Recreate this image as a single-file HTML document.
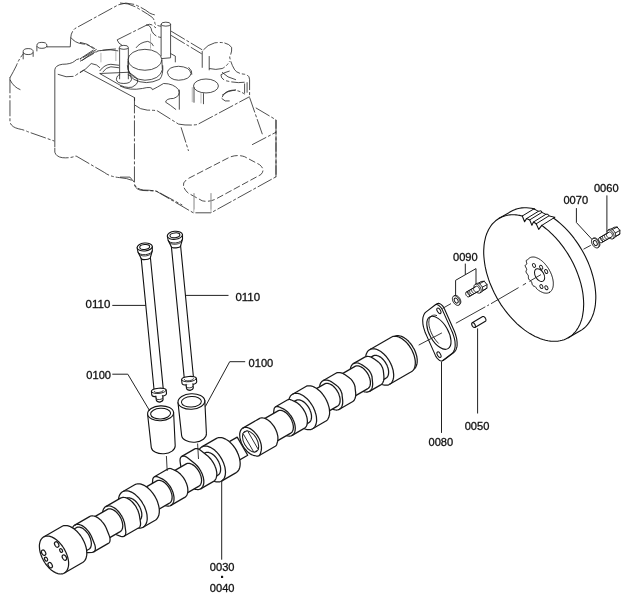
<!DOCTYPE html>
<html><head><meta charset="utf-8"><title>Camshaft parts diagram</title>
<style>
html,body{margin:0;padding:0;background:#fff}
body{width:626px;height:595px;overflow:hidden;font-family:"Liberation Sans",Arial,sans-serif}
svg{display:block;transform:translateZ(0);will-change:transform}
.ph{fill:none;stroke:#222;stroke-width:0.8;stroke-dasharray:16 2 3 2;vector-effect:non-scaling-stroke;stroke-linecap:butt}
.so{fill:none;stroke:#222;stroke-width:0.8;vector-effect:non-scaling-stroke}
.dd{fill:none;stroke:#222;stroke-width:0.8;stroke-dasharray:7 2.5;vector-effect:non-scaling-stroke}
.lt{fill:none;stroke:#999;stroke-width:0.7;vector-effect:non-scaling-stroke}
.ld{fill:none;stroke:#222;stroke-width:1}
.cl2{fill:none;stroke:#222;stroke-width:0.9}
.cl{fill:none;stroke:#333;stroke-width:0.8;stroke-dasharray:26 3 3 3}
text{font-family:"Liberation Sans",Arial,sans-serif;font-size:11.3px;fill:#111;stroke:#111;stroke-width:0.3px}
</style></head><body>
<svg width="626" height="595" viewBox="0 0 626 595">
<rect width="626" height="595" fill="#fff"/>
<g id="head">
<g transform="translate(0,0) scale(0.24919)">
<path class="ph" d="M40,310 L40,490 Q45,510 75,517 Q100,522 110,528 L218,566"/>
<path class="ph" d="M40,312 Q55,285 65,265 Q78,232 95,215"/>
<path class="so" d="M40,320 Q55,350 82,360"/>
<path class="so" d="M93,207 a20,12 0 1,0 40,0 a20,12 0 1,0 -40,0"/>
<path class="so" d="M148,182 a20,12 0 1,0 40,0 a20,12 0 1,0 -40,0"/>
<path class="so" d="M93,210 L93,238 M133,210 L133,228 M148,185 L148,206 M188,185 L188,190"/>
<path class="so" d="M188,188 L282,188"/>
<path class="ph" d="M282,188 L284,150 Q285,130 300,115 L470,22 Q500,5 540,18 Q580,35 600,52 Q615,60 626,60"/>
<path class="ph" d="M284,150 Q300,172 330,176 Q360,180 382,196"/>
<path class="ph" d="M388,198 L322,238"/>
<path class="so" d="M220,590 L220,280 Q222,262 250,258 Q285,258 300,245 Q305,238 318,236"/>
<path class="ph" d="M232,298 Q270,315 300,305 Q320,290 335,282"/>
<path class="so" d="M335,282 L540,392 L540,405"/>
<path class="ph" d="M330,243 Q360,215 390,205 Q440,195 478,205"/>
<path class="lt" d="M405,212 L405,250 M465,202 L465,245"/>
<path class="so" d="M480,192 L480,318 M515,192 L515,318"/>
<path class="so" d="M479,190 a18,8 0 1,0 36,0 a18,8 0 1,0 -36,0"/>
<path class="so" d="M467,318 Q470,300 482,300 M513,300 Q528,302 528,318 Q525,335 497,335 Q468,335 467,318"/>
<path class="so" d="M400,285 Q420,258 445,258 L478,262 M517,290 L545,310 Q560,325 545,340 L530,350 Q500,355 470,335 L400,295 Z"/>
<path class="so" d="M412,290 Q425,270 445,268 L478,272"/>
<path class="ph" d="M470,160 L590,100 Q600,95 610,100 L626,112"/>
<path class="so" d="M470,160 Q475,175 490,182"/>
</g>
<g transform="translate(120,0) scale(0.24919)">
<path class="ph" d="M0,12 Q40,12 75,35 Q110,55 130,70 Q140,82 140,95 Q150,105 165,105"/>
<path class="so" d="M165,97 L165,225 M203,97 L203,232"/>
<path class="so" d="M165,97 a19,8 0 1,0 38,0 a19,8 0 1,0 -38,0"/>
<path class="ph" d="M205,125 L330,200 M205,142 L328,216"/>
<path class="so" d="M330,205 L330,272 M358,225 L358,282"/>
<path class="ph" d="M335,200 Q350,180 380,172 Q430,165 448,190 Q450,210 440,228 Q445,255 460,280 Q470,295 500,298 Q520,300 520,320 L520,385"/>
<path class="ph" d="M358,275 Q385,282 410,275 Q430,265 440,245"/>
<path class="ph" d="M440,285 Q420,290 405,300 Q405,320 430,325 Q470,335 500,330"/>
<path class="ph" d="M500,335 L500,375 M510,330 L510,372"/>
<path class="ph" d="M410,390 Q420,365 450,362 Q480,362 500,378"/>
<path class="so" d="M32,240 a68,42 0 1,0 136,0 a68,42 0 1,0 -136,0"/>
<path class="so" d="M32,245 L33,280 Q45,318 100,322 Q160,320 170,280 L168,240"/>
<path class="so" d="M203,215 L222,225 L222,250 M168,235 L203,232"/>
<path class="so" d="M190,290 Q195,268 235,266 Q280,268 285,295 Q280,320 235,322 Q195,320 190,290"/>
<path class="so" d="M275,270 Q292,285 288,300"/>
<path class="so" d="M295,345 a50,28 0 1,0 100,0 a50,28 0 1,0 -100,0"/>
<path class="so" d="M297,350 L297,412 M335,374 L335,418"/>
<path class="lt" d="M290,350 L290,410 M325,374 L325,415"/>
<path class="so" d="M0,345 Q40,365 90,355 Q130,345 130,360 Q150,350 175,335 Q215,335 235,360 Q245,385 215,395 Q185,395 183,410 Q200,420 225,440"/>
<path class="so" d="M238,360 L238,440"/>
<path class="so" d="M408,395 Q420,410 440,405"/>
<path class="ph" d="M60,422 Q80,440 110,442 Q140,442 150,445 L235,498 Q270,505 310,500 L520,388"/>
</g>
<g transform="translate(0,60) scale(0.24919)">
<path class="so" d="M220,352 L220,370"/>
<path class="ph" d="M220,370 Q225,388 250,392 Q280,395 305,385 L420,452 Q440,468 480,472 Q520,475 538,488"/>
</g>
<g transform="translate(120,60) scale(0.24919)">
<path class="ph" d="M58,150 L58,498 Q65,518 95,522 Q130,522 150,528 L250,582"/>
<path class="ph" d="M0,470 L40,470 L58,492"/>
<path class="ph" d="M245,270 L275,365"/>
<path class="ph" d="M520,150 L572,300"/>
<path class="ph" d="M530,340 L626,290"/>
<path class="ph" d="M545,192 L626,240 L626,470"/>
<path class="dd" d="M255,505 Q250,490 275,475 L440,390 Q470,378 500,388 L560,420 Q585,440 565,460 L390,555 Q360,572 330,565 L275,535 Q258,522 255,505"/>
<path class="lt" d="M298,535 L298,600 M365,535 L365,600"/>
</g>
<g transform="translate(80,0) scale(0.24919)">
<path class="ph" d="M265,100 Q285,100 288,125 Q300,148 325,150"/>
<path class="so" d="M225,192 Q240,170 272,166 Q290,170 295,185"/>
<path class="lt" d="M283,135 L283,195"/>
<path class="ph" d="M0,170 Q30,172 55,196 M0,236 L55,200"/>
<path class="ph" d="M0,246 L70,206 Q100,198 155,196"/>
<path class="so" d="M0,292 Q25,278 45,255 Q70,258 80,272"/>
<path class="so" d="M190,262 Q195,300 215,318 Q265,345 320,318 Q335,300 332,262"/>
<path class="ph" d="M570,290 Q590,312 626,320 M570,382 Q590,365 626,360"/>
</g>
<path class="ph" d="M134.5,185 Q136,190 143,190.5 L156,191 L193.3,212.8 L211,212.8 L276,176.8 L276,120"/>
<path class="lt" d="M193.8,193 L193.8,212.8 M211,193 L211,212.8"/>
</g>
<g id="other">
<path d="M141.0,256.4 L154.2,391.3 L163.4,390.4 L150.2,255.5 Z" fill="#fff" stroke="none" stroke-width="1.1" stroke-linejoin="round" stroke-linecap="round" />
<path d="M141.0,256.4 L154.2,391.3 M150.2,255.5 L163.4,390.4" fill="none" stroke="#111" stroke-width="1.1" stroke-linejoin="round" stroke-linecap="round" />
<path d="M137.1,247.7 L138.0,252.2 L141.2,258.4 A4.6,1.6 -5.6 0 0 150.4,257.5 L152.3,250.8 L152.3,246.3 Z" fill="#fff" stroke="#111" stroke-width="1.1" stroke-linejoin="round" stroke-linecap="round" />
<path d="M138.0,252.2 A7.2,3.4 -5.6 0 0 152.3,250.8" fill="none" stroke="#111" stroke-width="0.9" stroke-linejoin="round" stroke-linecap="round" />
<path d="M138.8,253.6 A6.5,3.0 -5.6 0 0 151.8,252.3" fill="none" stroke="#111" stroke-width="0.8" stroke-linejoin="round" stroke-linecap="round" />
<ellipse cx="144.7" cy="247.0" rx="7.6" ry="4.0" transform="rotate(-5.6 144.7 247.0)" fill="#fff" stroke="#111" stroke-width="1.1"/>
<ellipse cx="144.7" cy="247.0" rx="5.0" ry="2.4" transform="rotate(-5.6 144.7 247.0)" fill="#fff" stroke="#111" stroke-width="1.0"/>
<path d="M151.4,391.5 L151.8,395.0 A7.4,2.6 -5.6 0 0 166.5,393.6 L166.2,390.1 A7.4,2.6 -5.6 0 0 151.4,391.5 Z" fill="#fff" stroke="#111" stroke-width="1.1" stroke-linejoin="round" stroke-linecap="round" />
<path d="M151.4,391.5 A7.4,2.6 -5.6 0 0 166.2,390.1" fill="none" stroke="#111" stroke-width="0.9" stroke-linejoin="round" stroke-linecap="round" />
<path d="M154.2,391.3 A4.6,1.6 -5.6 0 0 163.4,390.4" fill="none" stroke="#111" stroke-width="0.8" stroke-linejoin="round" stroke-linecap="round" />
<path d="M155.9,396.1 L156.3,400.1 Q156.7,401.9 159.9,402.1 Q163.0,401.2 163.1,399.4 L162.7,395.5" fill="#fff" stroke="#111" stroke-width="1.1" stroke-linejoin="round" stroke-linecap="round" />
<path d="M156.1,398.6 A3.4,1.3 -5.6 0 0 162.9,397.9" fill="none" stroke="#111" stroke-width="0.8" stroke-linejoin="round" stroke-linecap="round" />
<path d="M171.2,244.7 L184.4,379.6 L193.6,378.7 L180.4,243.8 Z" fill="#fff" stroke="none" stroke-width="1.1" stroke-linejoin="round" stroke-linecap="round" />
<path d="M171.2,244.7 L184.4,379.6 M180.4,243.8 L193.6,378.7" fill="none" stroke="#111" stroke-width="1.1" stroke-linejoin="round" stroke-linecap="round" />
<path d="M167.3,236.0 L168.2,240.5 L171.4,246.7 A4.6,1.6 -5.6 0 0 180.6,245.8 L182.5,239.1 L182.5,234.6 Z" fill="#fff" stroke="#111" stroke-width="1.1" stroke-linejoin="round" stroke-linecap="round" />
<path d="M168.2,240.5 A7.2,3.4 -5.6 0 0 182.5,239.1" fill="none" stroke="#111" stroke-width="0.9" stroke-linejoin="round" stroke-linecap="round" />
<path d="M169.0,241.9 A6.5,3.0 -5.6 0 0 182.0,240.6" fill="none" stroke="#111" stroke-width="0.8" stroke-linejoin="round" stroke-linecap="round" />
<ellipse cx="174.9" cy="235.3" rx="7.6" ry="4.0" transform="rotate(-5.6 174.9 235.3)" fill="#fff" stroke="#111" stroke-width="1.1"/>
<ellipse cx="174.9" cy="235.3" rx="5.0" ry="2.4" transform="rotate(-5.6 174.9 235.3)" fill="#fff" stroke="#111" stroke-width="1.0"/>
<path d="M181.6,379.8 L182.0,383.3 A7.4,2.6 -5.6 0 0 196.7,381.9 L196.4,378.4 A7.4,2.6 -5.6 0 0 181.6,379.8 Z" fill="#fff" stroke="#111" stroke-width="1.1" stroke-linejoin="round" stroke-linecap="round" />
<path d="M181.6,379.8 A7.4,2.6 -5.6 0 0 196.4,378.4" fill="none" stroke="#111" stroke-width="0.9" stroke-linejoin="round" stroke-linecap="round" />
<path d="M184.4,379.6 A4.6,1.6 -5.6 0 0 193.6,378.7" fill="none" stroke="#111" stroke-width="0.8" stroke-linejoin="round" stroke-linecap="round" />
<path d="M186.1,384.4 L186.5,388.4 Q186.9,390.2 190.1,390.4 Q193.2,389.5 193.3,387.7 L192.9,383.8" fill="#fff" stroke="#111" stroke-width="1.1" stroke-linejoin="round" stroke-linecap="round" />
<path d="M186.3,386.9 A3.4,1.3 -5.6 0 0 193.1,386.2" fill="none" stroke="#111" stroke-width="0.8" stroke-linejoin="round" stroke-linecap="round" />
<path d="M147.6,414.3 L151.3,447.6 A12.0,7.4 -3.0 0 0 175.2,445.8 L173.6,412.3 Z" fill="#fff" stroke="#111" stroke-width="1.1" stroke-linejoin="round" stroke-linecap="round" />
<ellipse cx="160.6" cy="413.3" rx="13.0" ry="7.4" transform="rotate(-3.0 160.6 413.3)" fill="#fff" stroke="#111" stroke-width="1.1"/>
<ellipse cx="160.6" cy="413.6" rx="10.0" ry="5.3" transform="rotate(-3.0 160.6 413.6)" fill="#fff" stroke="#111" stroke-width="1.0"/>
<path d="M178.0,402.6 L181.6,435.4 A12.4,7.8 -3.0 0 0 206.4,433.4 L204.8,400.4 Z" fill="#fff" stroke="#111" stroke-width="1.1" stroke-linejoin="round" stroke-linecap="round" />
<ellipse cx="191.4" cy="401.5" rx="13.4" ry="7.8" transform="rotate(-3.0 191.4 401.5)" fill="#fff" stroke="#111" stroke-width="1.1"/>
<ellipse cx="191.4" cy="401.8" rx="10.0" ry="5.3" transform="rotate(-3.0 191.4 401.8)" fill="#fff" stroke="#111" stroke-width="1.0"/>
<path d="M483.7,250.6 L483.9,247.6 L484.1,244.8 L484.5,242.0 L485.1,239.3 L485.7,236.7 L486.5,234.3 L487.5,231.9 L488.5,229.7 L489.7,227.7 L491.0,225.7 L492.4,223.9 L494.0,222.3 L495.6,220.8 L497.4,219.5 L499.2,218.3 L511.3,211.3 L513.3,210.3 L515.3,209.4 L517.4,208.8 L519.6,208.3 L521.9,207.9 L524.2,207.8 L526.6,207.8 L529.0,208.0 L531.5,208.3 L534.0,208.9 L536.6,209.6 L539.1,210.4 L541.8,211.5 L544.4,212.7 L547.0,214.0 L549.6,215.6 L552.2,217.2 L554.8,219.0 L557.4,221.0 L559.9,223.1 L562.4,225.3 L564.8,227.7 L567.2,230.2 L569.5,232.7 L571.8,235.4 L574.0,238.2 L576.1,241.1 L578.2,244.1 L580.1,247.1 L582.0,250.2 L583.7,253.3 L585.4,256.5 L586.9,259.8 L588.4,263.1 L589.7,266.4 L590.9,269.7 L591.9,273.0 L592.9,276.3 L593.7,279.6 L594.4,282.9 L594.9,286.1 L595.3,289.3 L595.6,292.4 L595.8,295.5 L595.8,298.5 L595.6,301.5 L595.4,304.4 L595.0,307.1 L594.4,309.8 L593.8,312.4 L593.0,314.8 L592.0,317.1 L591.0,319.4 L589.8,321.4 L588.5,323.4 L587.1,325.2 L585.5,326.8 L583.9,328.3 L582.2,329.6 L580.3,330.8 L568.2,337.8 L566.2,338.8 L564.2,339.7 L562.1,340.3 L559.9,340.8 L557.7,341.2 L555.3,341.3 L552.9,341.3 L550.5,341.1 L548.0,340.8 L545.5,340.2 L542.9,339.5 L540.4,338.7 L537.8,337.6 L535.1,336.4 L532.5,335.1 L529.9,333.6 L527.3,331.9 L524.7,330.1 L522.2,328.1 L519.6,326.0 L517.1,323.8 L514.7,321.4 L512.3,318.9 L510.0,316.4 L507.7,313.7 L505.5,310.9 L503.4,308.0 L501.3,305.1 L499.4,302.0 L497.5,298.9 L495.8,295.8 L494.1,292.6 L492.6,289.3 L491.2,286.0 L489.8,282.8 L488.6,279.4 L487.6,276.1 L486.6,272.8 L485.8,269.5 L485.1,266.2 L484.6,263.0 L484.2,259.8 L483.9,256.7 L483.7,253.6 Z" fill="#fff" stroke="#111" stroke-width="1.1" stroke-linejoin="round" stroke-linecap="round" />
<path d="M568.2,337.8 L569.5,337.0 L570.8,336.1 L572.0,335.1 L573.1,334.1 L574.2,333.0 L575.3,331.8 L576.3,330.5 L577.2,329.1 L578.1,327.7 L578.9,326.2 L579.7,324.7 L580.4,323.1 L581.0,321.4 L581.6,319.7 L582.1,317.9 L582.5,316.0 L582.8,314.1 L583.1,312.2 L583.4,310.2 L583.5,308.2 L583.6,306.1 L583.7,304.0 L583.6,301.8 L583.5,299.6 L583.3,297.4 L583.1,295.2 L582.8,292.9 L582.4,290.6 L582.0,288.3 L581.4,286.0 L580.9,283.7 L580.2,281.4 L579.5,279.0 L578.7,276.7 L577.9,274.4 L577.0,272.0 L576.1,269.7 L575.1,267.4 L574.0,265.1 L572.9,262.8 L571.7,260.6 L570.5,258.3 L569.2,256.1 L567.9,253.9 L566.5,251.8 L565.1,249.7 L563.7,247.6 L562.2,245.6 L560.6,243.6 L559.1,241.7 L557.5,239.8 L555.8,237.9 L554.1,236.2 L552.4,234.4 L550.7,232.8 L549.0,231.2 L547.2,229.6 L545.4,228.2 L543.6,226.8 L541.8,225.4" fill="none" stroke="#111" stroke-width="1.1" stroke-linejoin="round" stroke-linecap="round" />
<path d="M522.3,216.0 L521.0,215.7 L519.7,215.4 L518.5,215.2 L517.2,215.0 L516.0,214.9 L514.7,214.8 L513.5,214.8 L512.3,214.8 L511.1,214.8 L509.9,214.9 L508.8,215.0 L507.6,215.2 L506.5,215.5 L505.4,215.7 L504.3,216.1 L503.2,216.4 L502.2,216.8 L501.2,217.3 L500.2,217.8 L499.2,218.3" fill="none" stroke="#111" stroke-width="1.1" stroke-linejoin="round" stroke-linecap="round" />
<path d="M535.1,207.8 L540.8,209.8 L547.5,213.0 L553.2,216.7 L552.7,220.1 L547.4,216.7 L541.1,213.7 L535.7,211.9 Z" fill="#fff" stroke="none" stroke-width="1.1" stroke-linejoin="round" stroke-linecap="round" />
<path d="M522.3,216.0 L524.6,221.7 L526.5,218.6 L529.7,219.9 L531.9,225.2 L533.5,222.0 L536.2,223.8 L538.7,229.4 L541.8,225.4" fill="none" stroke="#111" stroke-width="1.1" stroke-linejoin="round" stroke-linecap="round" />
<path d="M522.3,216.0 L533.9,208.9" fill="none" stroke="#111" stroke-width="1.0" stroke-linejoin="round" stroke-linecap="round" />
<path d="M526.5,218.6 L538.4,211.3" fill="none" stroke="#111" stroke-width="1.0" stroke-linejoin="round" stroke-linecap="round" />
<path d="M529.7,219.9 L541.9,212.4" fill="none" stroke="#111" stroke-width="1.0" stroke-linejoin="round" stroke-linecap="round" />
<path d="M533.5,222.0 L545.9,214.3" fill="none" stroke="#111" stroke-width="1.0" stroke-linejoin="round" stroke-linecap="round" />
<path d="M536.2,223.8 L548.9,215.9" fill="none" stroke="#111" stroke-width="1.0" stroke-linejoin="round" stroke-linecap="round" />
<path d="M541.8,225.4 L554.8,217.3" fill="none" stroke="#111" stroke-width="1.0" stroke-linejoin="round" stroke-linecap="round" />
<path d="M533.9,208.9 L538.4,211.3 L541.1,210.8 L541.9,212.4 L545.9,214.3 L548.1,214.3 L548.9,215.9 L554.8,217.3" fill="none" stroke="#111" stroke-width="1.0" stroke-linejoin="round" stroke-linecap="round" />
<path d="M549.6,292.3 L549.9,292.1 L550.2,291.9 L550.5,291.7 L550.8,291.4 L551.0,291.1 L551.3,290.8 L551.5,290.5 L551.8,290.2 L552.0,289.8 L552.2,289.4 L552.4,289.0 L552.5,288.6 L552.7,288.2 L552.8,287.7 L553.0,287.3 L553.1,286.8 L553.1,286.3 L553.2,285.8 L553.3,285.3 L553.3,284.8 L553.3,284.2 L553.3,283.7 L553.3,283.1 L553.3,282.6 L553.3,282.0 L553.2,281.4 L553.1,280.8 L553.0,280.2 L552.9,279.6 L552.8,279.0 L552.6,278.4 L552.5,277.7 L552.3,277.1 L552.1,276.5 L551.9,275.9 L551.7,275.2 L551.5,274.6 L551.2,274.0 L550.9,273.3 L550.7,272.7 L550.4,272.1 L550.1,271.5 L549.7,270.8 L549.4,270.2 L549.1,269.6 L548.7,269.0 L548.4,268.4 L548.0,267.9 L547.6,267.3 L547.2,266.7 L546.8,266.2 L546.4,265.6 L546.0,265.1 L545.5,264.6 L545.1,264.1 L544.7,263.6 L544.2,263.1 L543.8,262.6 L543.3,262.2 L542.8,261.7 L542.4,261.3 L541.9,260.9 L541.4,260.5 L540.9,260.2 L540.5,259.8 L540.0,259.5 L539.5,259.2 L539.0,258.9 L538.5,258.6 L538.1,258.4 L537.6,258.2 L537.1,257.9 L536.7,257.8 L536.2,257.6 L535.7,257.4 L535.3,257.3 L534.8,257.2 L534.4,257.1 L533.9,257.1 L533.5,257.0 L533.1,257.0 L532.6,257.0 L532.2,257.1 L531.8,257.1 L531.4,257.2 L531.1,257.3 L530.7,257.4 L530.3,257.5 L530.0,257.7 L529.6,257.9 L529.3,258.1 L529.0,258.3 L528.7,258.5 L528.4,258.8 L528.2,259.1 L527.9,259.4 L527.7,259.7 L527.4,260.0 L526.9,260.0 L526.5,260.2 L526.3,260.6 L526.3,261.2 L526.4,261.9 L526.6,262.7 L526.8,263.4 L526.7,263.9 L526.5,264.3 L526.2,264.5 L525.7,264.8 L525.4,265.1 L525.2,265.5 L525.3,266.2 L525.6,266.9 L526.0,267.7 L526.4,268.4 L526.6,269.1 L526.7,269.6 L526.5,270.1 L526.3,270.6 L526.1,271.1 L526.0,271.7 L526.2,272.3 L526.5,273.0 L527.0,273.7 L527.5,274.4 L528.0,275.0 L528.3,275.6 L528.4,276.2 L528.4,276.8 L528.4,277.5 L528.4,278.2 L528.7,278.9 L529.1,279.5 L529.6,280.1 L530.2,280.5 L530.8,281.0 L531.2,281.5 L531.6,282.0 L531.8,282.7 L532.0,283.5 L532.2,284.3 L532.5,285.0 L533.0,285.6 L533.5,286.0 L534.1,286.2 L534.6,286.4 L535.2,286.6 L535.6,287.0 L536.0,287.6 L536.4,288.3 L536.8,288.9 L537.3,289.3 L537.8,289.7 L538.3,290.0 L538.7,290.4 L539.2,290.7 L539.7,291.0 L540.2,291.3 L540.7,291.6 L541.1,291.8 L541.6,292.0 L542.1,292.3 L542.5,292.4 L543.0,292.6 L543.5,292.8 L543.9,292.9 L544.4,293.0 L544.8,293.1 L545.3,293.1 L545.7,293.2 L546.1,293.2 L546.6,293.2 L547.0,293.1 L547.4,293.1 L547.8,293.0 L548.1,292.9 L548.5,292.8 L548.9,292.7 L549.2,292.5 L549.6,292.3 Z" fill="none" stroke="#111" stroke-width="1.0" stroke-linejoin="round" stroke-linecap="round" />
<ellipse cx="539.6" cy="275.1" rx="7.0" ry="4.3" transform="rotate(60 539.6 275.1)" fill="none" stroke="#111" stroke-width="1.0"/>
<ellipse cx="534.0" cy="265.4" rx="2.1" ry="1.4" transform="rotate(60 534.0 265.4)" fill="none" stroke="#111" stroke-width="0.9"/>
<ellipse cx="541.2" cy="267.3" rx="2.1" ry="1.4" transform="rotate(60 541.2 267.3)" fill="none" stroke="#111" stroke-width="0.9"/>
<ellipse cx="546.2" cy="271.5" rx="2.1" ry="1.4" transform="rotate(60 546.2 271.5)" fill="none" stroke="#111" stroke-width="0.9"/>
<ellipse cx="541.4" cy="286.6" rx="2.1" ry="1.4" transform="rotate(60 541.4 286.6)" fill="none" stroke="#111" stroke-width="0.9"/>
<ellipse cx="546.4" cy="287.7" rx="2.1" ry="1.4" transform="rotate(60 546.4 287.7)" fill="none" stroke="#111" stroke-width="0.9"/>
<path d="M591.5,241.1 L591.5,240.5 L591.6,240.0 L591.8,239.6 L592.1,239.2 L592.4,238.8 L592.7,238.6 L593.5,238.2 L593.9,238.0 L594.3,237.9 L594.8,237.9 L595.2,237.9 L595.7,238.1 L596.2,238.3 L596.7,238.6 L597.2,239.0 L597.7,239.4 L598.1,239.9 L598.5,240.5 L598.9,241.0 L599.2,241.6 L599.5,242.3 L599.6,242.9 L599.8,243.5 L599.9,244.1 L599.9,244.7 L599.8,245.2 L599.7,245.7 L599.5,246.2 L599.3,246.6 L599.0,246.9 L598.7,247.2 L597.9,247.6 L597.5,247.8 L597.1,247.9 L596.6,247.9 L596.2,247.8 L595.7,247.7 L595.2,247.4 L594.7,247.1 L594.2,246.8 L593.7,246.3 L593.3,245.8 L592.9,245.3 L592.5,244.7 L592.2,244.1 L591.9,243.5 L591.7,242.9 L591.6,242.2 L591.5,241.6 Z" fill="#fff" stroke="#111" stroke-width="1.0" stroke-linejoin="round" />
<path d="M597.9,247.6 L598.2,247.4 L598.5,247.0 L598.8,246.6 L598.9,246.2 L599.1,245.7 L599.1,245.1 L599.1,244.6 L599.0,244.0 L598.9,243.3 L598.7,242.7 L598.4,242.1 L598.1,241.5 L597.7,240.9 L597.3,240.4 L596.9,239.9 L596.4,239.5 L595.9,239.1 L595.4,238.8 L594.9,238.5 L594.4,238.4 L594.0,238.3 L593.5,238.3 L593.1,238.4 L592.7,238.6" fill="none" stroke="#111" stroke-width="1.0" stroke-linejoin="round" />
<ellipse cx="595.3" cy="243.1" rx="2.7" ry="1.7" transform="rotate(60 595.3 243.1)" fill="none" stroke="#111" stroke-width="0.9"/>
<path d="M609.1,233.9 L609.2,230.2 L614.2,227.3 L617.1,227.0 L619.9,230.4 L619.8,234.1 L614.8,236.9 L611.9,237.3 Z" fill="#fff" stroke="#111" stroke-width="1.0" stroke-linejoin="round" />
<path d="M614.8,237.0 L614.9,233.2 L612.1,229.8 L609.2,230.1" fill="none" stroke="#111" stroke-width="1.0" stroke-linejoin="round" />
<path d="M614.8,237.0 L619.8,234.1" fill="none" stroke="#111" stroke-width="0.9" stroke-linejoin="round" stroke-linecap="round" />
<path d="M614.9,233.2 L619.9,230.4" fill="none" stroke="#111" stroke-width="0.9" stroke-linejoin="round" stroke-linecap="round" />
<path d="M612.1,229.8 L617.1,227.0" fill="none" stroke="#111" stroke-width="0.9" stroke-linejoin="round" stroke-linecap="round" />
<path d="M606.9,232.5 L606.9,232.0 L607.0,231.5 L607.2,231.1 L607.4,230.7 L607.7,230.4 L608.0,230.2 L609.6,229.3 L609.9,229.1 L610.3,229.1 L610.8,229.1 L611.2,229.1 L611.7,229.3 L612.1,229.5 L612.6,229.8 L613.1,230.1 L613.5,230.5 L613.9,231.0 L614.3,231.5 L614.6,232.0 L615.0,232.6 L615.2,233.2 L615.4,233.8 L615.5,234.4 L615.6,234.9 L615.6,235.5 L615.6,236.0 L615.5,236.5 L615.3,236.9 L615.1,237.3 L614.8,237.6 L614.5,237.8 L612.9,238.7 L612.5,238.9 L612.1,238.9 L611.7,238.9 L611.3,238.9 L610.8,238.7 L610.3,238.5 L609.9,238.2 L609.4,237.9 L609.0,237.5 L608.5,237.0 L608.2,236.5 L607.8,236.0 L607.5,235.4 L607.3,234.8 L607.1,234.2 L607.0,233.6 L606.9,233.1 Z" fill="#fff" stroke="#111" stroke-width="1.0" stroke-linejoin="round" />
<path d="M612.9,238.7 L613.2,238.5 L613.5,238.2 L613.7,237.8 L613.9,237.4 L614.0,236.9 L614.1,236.4 L614.0,235.8 L614.0,235.3 L613.8,234.7 L613.6,234.1 L613.4,233.5 L613.1,232.9 L612.7,232.4 L612.4,231.9 L612.0,231.4 L611.5,231.0 L611.1,230.7 L610.6,230.4 L610.1,230.2 L609.7,230.0 L609.2,229.9 L608.8,230.0 L608.4,230.0 L608.0,230.2" fill="none" stroke="#111" stroke-width="1.0" stroke-linejoin="round" />
<path d="M598.5,239.1 L598.5,238.8 L598.6,238.6 L598.7,238.4 L598.8,238.2 L599.0,238.0 L599.1,237.9 L609.1,232.1 L609.3,232.0 L609.5,232.0 L609.8,232.0 L610.0,232.0 L610.3,232.1 L610.5,232.2 L610.8,232.4 L611.0,232.6 L611.3,232.8 L611.5,233.0 L611.7,233.3 L611.9,233.6 L612.1,233.9 L612.2,234.2 L612.3,234.6 L612.4,234.9 L612.4,235.2 L612.4,235.5 L612.4,235.8 L612.4,236.1 L612.3,236.3 L612.1,236.5 L612.0,236.7 L611.8,236.8 L601.9,242.5 L601.6,242.6 L601.4,242.7 L601.2,242.7 L600.9,242.6 L600.7,242.6 L600.4,242.4 L600.2,242.3 L599.9,242.1 L599.7,241.9 L599.5,241.6 L599.2,241.3 L599.0,241.0 L598.9,240.7 L598.8,240.4 L598.6,240.1 L598.6,239.8 L598.5,239.4 Z" fill="#fff" stroke="#111" stroke-width="1.0" stroke-linejoin="round" />
<path d="M601.9,242.5 L602.0,242.4 L602.2,242.2 L602.3,242.0 L602.4,241.8 L602.5,241.5 L602.5,241.3 L602.5,241.0 L602.4,240.6 L602.4,240.3 L602.2,240.0 L602.1,239.7 L601.9,239.4 L601.8,239.1 L601.6,238.8 L601.3,238.5 L601.1,238.3 L600.8,238.1 L600.6,238.0 L600.3,237.8 L600.1,237.8 L599.8,237.7 L599.6,237.7 L599.4,237.8 L599.1,237.9" fill="none" stroke="#111" stroke-width="1.0" stroke-linejoin="round" />
<path d="M602.0,236.6 L601.7,236.6 L601.4,236.6 L601.1,236.7 L600.9,236.9 L600.7,237.1 L600.6,237.4 L600.5,237.8 L600.5,238.2 L600.6,238.6 L600.7,239.0 L600.8,239.5 L601.0,239.9 L601.3,240.3 L601.6,240.6 L601.9,240.9 L602.2,241.2 L602.6,241.4 L602.9,241.5 L603.3,241.5 L603.6,241.5 L603.8,241.4 L604.1,241.2 L604.3,241.0 L604.4,240.7" fill="none" stroke="#111" stroke-width="0.9" stroke-linejoin="round" />
<path d="M604.0,235.5 L603.7,235.4 L603.4,235.5 L603.1,235.6 L602.9,235.7 L602.7,236.0 L602.6,236.3 L602.5,236.6 L602.5,237.0 L602.6,237.5 L602.7,237.9 L602.8,238.3 L603.0,238.7 L603.3,239.1 L603.6,239.5 L603.9,239.8 L604.2,240.0 L604.6,240.2 L604.9,240.3 L605.3,240.4 L605.6,240.3 L605.8,240.2 L606.1,240.1 L606.2,239.8 L606.4,239.5" fill="none" stroke="#111" stroke-width="0.9" stroke-linejoin="round" />
<path d="M606.0,234.3 L605.7,234.3 L605.4,234.3 L605.1,234.4 L604.9,234.6 L604.7,234.8 L604.6,235.1 L604.5,235.5 L604.5,235.9 L604.5,236.3 L604.7,236.7 L604.8,237.2 L605.0,237.6 L605.3,238.0 L605.6,238.3 L605.9,238.6 L606.2,238.9 L606.6,239.1 L606.9,239.2 L607.2,239.2 L607.6,239.2 L607.8,239.1 L608.1,238.9 L608.2,238.7 L608.4,238.4" fill="none" stroke="#111" stroke-width="0.9" stroke-linejoin="round" />
<path d="M608.0,233.2 L607.7,233.1 L607.4,233.2 L607.1,233.3 L606.9,233.4 L606.7,233.7 L606.6,234.0 L606.5,234.3 L606.5,234.7 L606.5,235.2 L606.6,235.6 L606.8,236.0 L607.0,236.4 L607.3,236.8 L607.6,237.2 L607.9,237.5 L608.2,237.7 L608.6,237.9 L608.9,238.0 L609.2,238.1 L609.5,238.0 L609.8,237.9 L610.0,237.8 L610.2,237.5 L610.4,237.2" fill="none" stroke="#111" stroke-width="0.9" stroke-linejoin="round" />
<path d="M471.7,323.9 L471.7,323.6 L471.7,323.4 L471.8,323.1 L471.9,323.0 L472.0,322.8 L472.2,322.7 L482.7,316.6 L482.9,316.5 L483.1,316.5 L483.3,316.5 L483.6,316.5 L483.8,316.6 L484.0,316.8 L484.3,316.9 L484.5,317.1 L484.8,317.4 L485.0,317.6 L485.2,317.9 L485.4,318.2 L485.5,318.5 L485.7,318.8 L485.8,319.1 L485.9,319.5 L485.9,319.8 L485.9,320.1 L485.9,320.3 L485.9,320.6 L485.8,320.8 L485.7,321.0 L485.6,321.1 L485.4,321.3 L474.9,327.4 L474.7,327.4 L474.5,327.5 L474.3,327.5 L474.1,327.4 L473.8,327.3 L473.6,327.2 L473.3,327.0 L473.1,326.8 L472.9,326.6 L472.6,326.4 L472.4,326.1 L472.2,325.8 L472.1,325.5 L471.9,325.1 L471.8,324.8 L471.7,324.5 L471.7,324.2 Z" fill="#fff" stroke="#111" stroke-width="1.1" stroke-linejoin="round" />
<path d="M474.9,327.4 L475.0,327.3 L475.2,327.1 L475.3,326.9 L475.3,326.7 L475.4,326.4 L475.4,326.2 L475.4,325.9 L475.3,325.6 L475.2,325.2 L475.1,324.9 L475.0,324.6 L474.8,324.3 L474.6,324.0 L474.4,323.7 L474.2,323.4 L474.0,323.2 L473.7,323.0 L473.5,322.9 L473.2,322.7 L473.0,322.6 L472.8,322.6 L472.5,322.6 L472.3,322.6 L472.2,322.7" fill="none" stroke="#111" stroke-width="1.1" stroke-linejoin="round" />
<path d="M452.4,298.6 L452.4,298.0 L452.6,297.5 L452.7,297.1 L453.0,296.7 L453.3,296.4 L453.6,296.1 L454.4,295.6 L454.8,295.5 L455.2,295.4 L455.6,295.4 L456.1,295.4 L456.6,295.6 L457.1,295.8 L457.6,296.1 L458.1,296.5 L458.6,296.9 L459.0,297.4 L459.4,298.0 L459.8,298.5 L460.1,299.1 L460.4,299.8 L460.6,300.4 L460.7,301.0 L460.8,301.6 L460.8,302.2 L460.7,302.7 L460.6,303.2 L460.4,303.7 L460.2,304.1 L459.9,304.4 L459.6,304.6 L458.8,305.1 L458.4,305.3 L458.0,305.4 L457.5,305.4 L457.1,305.3 L456.6,305.1 L456.1,304.9 L455.6,304.6 L455.1,304.2 L454.6,303.8 L454.2,303.3 L453.8,302.8 L453.4,302.2 L453.1,301.6 L452.8,301.0 L452.6,300.4 L452.5,299.7 L452.4,299.1 Z" fill="#fff" stroke="#111" stroke-width="1.0" stroke-linejoin="round" />
<path d="M458.8,305.1 L459.1,304.9 L459.4,304.5 L459.7,304.1 L459.8,303.7 L460.0,303.2 L460.0,302.6 L460.0,302.1 L459.9,301.5 L459.8,300.8 L459.6,300.2 L459.3,299.6 L459.0,299.0 L458.6,298.4 L458.2,297.9 L457.8,297.4 L457.3,297.0 L456.8,296.6 L456.3,296.3 L455.8,296.0 L455.3,295.9 L454.9,295.8 L454.4,295.8 L454.0,295.9 L453.6,296.1" fill="none" stroke="#111" stroke-width="1.0" stroke-linejoin="round" />
<ellipse cx="456.2" cy="300.6" rx="2.7" ry="1.7" transform="rotate(60 456.2 300.6)" fill="none" stroke="#111" stroke-width="0.9"/>
<path d="M476.2,288.1 L476.3,284.4 L481.3,281.5 L484.2,281.2 L487.0,284.6 L486.9,288.3 L481.9,291.1 L479.0,291.5 Z" fill="#fff" stroke="#111" stroke-width="1.0" stroke-linejoin="round" />
<path d="M481.9,291.2 L482.0,287.4 L479.2,284.0 L476.3,284.3" fill="none" stroke="#111" stroke-width="1.0" stroke-linejoin="round" />
<path d="M481.9,291.2 L486.9,288.3" fill="none" stroke="#111" stroke-width="0.9" stroke-linejoin="round" stroke-linecap="round" />
<path d="M482.0,287.4 L487.0,284.6" fill="none" stroke="#111" stroke-width="0.9" stroke-linejoin="round" stroke-linecap="round" />
<path d="M479.2,284.0 L484.2,281.2" fill="none" stroke="#111" stroke-width="0.9" stroke-linejoin="round" stroke-linecap="round" />
<path d="M474.0,286.7 L474.0,286.2 L474.1,285.7 L474.3,285.3 L474.5,284.9 L474.8,284.6 L475.1,284.4 L476.7,283.5 L477.0,283.3 L477.4,283.3 L477.9,283.2 L478.3,283.3 L478.8,283.5 L479.2,283.7 L479.7,284.0 L480.2,284.3 L480.6,284.7 L481.0,285.2 L481.4,285.7 L481.8,286.2 L482.1,286.8 L482.3,287.4 L482.5,288.0 L482.6,288.6 L482.7,289.1 L482.7,289.7 L482.7,290.2 L482.6,290.7 L482.4,291.1 L482.2,291.5 L481.9,291.8 L481.6,292.0 L480.0,292.9 L479.6,293.1 L479.2,293.1 L478.8,293.1 L478.4,293.1 L477.9,292.9 L477.4,292.7 L477.0,292.4 L476.5,292.1 L476.1,291.7 L475.6,291.2 L475.3,290.7 L474.9,290.2 L474.6,289.6 L474.4,289.0 L474.2,288.4 L474.1,287.8 L474.0,287.3 Z" fill="#fff" stroke="#111" stroke-width="1.0" stroke-linejoin="round" />
<path d="M480.0,292.9 L480.3,292.7 L480.6,292.4 L480.8,292.0 L481.0,291.6 L481.1,291.1 L481.2,290.6 L481.1,290.0 L481.1,289.5 L480.9,288.9 L480.7,288.3 L480.5,287.7 L480.2,287.1 L479.8,286.6 L479.5,286.1 L479.1,285.6 L478.6,285.2 L478.2,284.9 L477.7,284.6 L477.2,284.4 L476.8,284.2 L476.3,284.1 L475.9,284.2 L475.5,284.2 L475.1,284.4" fill="none" stroke="#111" stroke-width="1.0" stroke-linejoin="round" />
<path d="M465.6,293.3 L465.6,293.1 L465.7,292.8 L465.8,292.6 L465.9,292.4 L466.1,292.2 L466.2,292.1 L476.2,286.3 L476.4,286.2 L476.6,286.2 L476.9,286.2 L477.1,286.2 L477.4,286.3 L477.6,286.4 L477.9,286.6 L478.1,286.8 L478.4,287.0 L478.6,287.2 L478.8,287.5 L479.0,287.8 L479.2,288.1 L479.3,288.4 L479.4,288.8 L479.5,289.1 L479.5,289.4 L479.5,289.7 L479.5,290.0 L479.4,290.3 L479.4,290.5 L479.2,290.7 L479.1,290.9 L478.9,291.0 L468.9,296.7 L468.8,296.8 L468.5,296.9 L468.3,296.9 L468.0,296.8 L467.8,296.8 L467.5,296.6 L467.3,296.5 L467.0,296.3 L466.8,296.1 L466.6,295.8 L466.3,295.5 L466.1,295.2 L466.0,294.9 L465.9,294.6 L465.7,294.3 L465.7,294.0 L465.6,293.6 Z" fill="#fff" stroke="#111" stroke-width="1.0" stroke-linejoin="round" />
<path d="M469.0,296.7 L469.1,296.6 L469.3,296.4 L469.4,296.2 L469.5,296.0 L469.6,295.7 L469.6,295.5 L469.6,295.2 L469.5,294.8 L469.5,294.5 L469.3,294.2 L469.2,293.9 L469.0,293.6 L468.9,293.3 L468.7,293.0 L468.4,292.7 L468.2,292.5 L467.9,292.3 L467.7,292.2 L467.4,292.0 L467.2,292.0 L466.9,291.9 L466.7,291.9 L466.5,292.0 L466.2,292.1" fill="none" stroke="#111" stroke-width="1.0" stroke-linejoin="round" />
<path d="M469.1,290.8 L468.8,290.8 L468.5,290.8 L468.2,290.9 L468.0,291.1 L467.8,291.3 L467.7,291.6 L467.6,292.0 L467.6,292.4 L467.7,292.8 L467.8,293.2 L467.9,293.7 L468.1,294.1 L468.4,294.5 L468.7,294.8 L469.0,295.1 L469.3,295.4 L469.7,295.6 L470.0,295.7 L470.4,295.7 L470.7,295.7 L470.9,295.6 L471.2,295.4 L471.4,295.2 L471.5,294.9" fill="none" stroke="#111" stroke-width="0.9" stroke-linejoin="round" />
<path d="M471.1,289.7 L470.8,289.6 L470.5,289.7 L470.2,289.8 L470.0,289.9 L469.8,290.2 L469.7,290.5 L469.6,290.8 L469.6,291.2 L469.7,291.7 L469.8,292.1 L469.9,292.5 L470.1,292.9 L470.4,293.3 L470.7,293.7 L471.0,294.0 L471.3,294.2 L471.7,294.4 L472.0,294.5 L472.4,294.6 L472.7,294.5 L472.9,294.4 L473.2,294.3 L473.3,294.0 L473.5,293.7" fill="none" stroke="#111" stroke-width="0.9" stroke-linejoin="round" />
<path d="M473.1,288.5 L472.8,288.5 L472.5,288.5 L472.2,288.6 L472.0,288.8 L471.8,289.0 L471.7,289.3 L471.6,289.7 L471.6,290.1 L471.6,290.5 L471.8,290.9 L471.9,291.4 L472.1,291.8 L472.4,292.2 L472.7,292.5 L473.0,292.8 L473.3,293.1 L473.7,293.3 L474.0,293.4 L474.3,293.4 L474.7,293.4 L474.9,293.3 L475.2,293.1 L475.3,292.9 L475.5,292.6" fill="none" stroke="#111" stroke-width="0.9" stroke-linejoin="round" />
<path d="M475.1,287.4 L474.8,287.3 L474.5,287.4 L474.2,287.5 L474.0,287.6 L473.8,287.9 L473.7,288.2 L473.6,288.5 L473.6,288.9 L473.6,289.4 L473.7,289.8 L473.9,290.2 L474.1,290.6 L474.4,291.0 L474.7,291.4 L475.0,291.7 L475.3,291.9 L475.7,292.1 L476.0,292.2 L476.3,292.3 L476.6,292.2 L476.9,292.1 L477.1,292.0 L477.3,291.7 L477.5,291.4" fill="none" stroke="#111" stroke-width="0.9" stroke-linejoin="round" />
<path d="M422.7,320.4 L422.8,318.9 L423.0,317.4 L423.4,316.1 L423.8,314.9 L424.4,313.8 L425.0,312.9 L425.8,312.1 L435.4,304.7 L437.4,303.6 L438.0,303.4 L438.6,303.4 L439.4,303.5 L440.2,303.9 L441.0,304.4 L441.8,305.1 L442.6,305.9 L443.3,306.9 L443.9,307.9 L444.5,309.0 L453.5,329.2 L454.4,331.2 L455.1,333.1 L455.7,335.0 L456.2,336.9 L456.7,338.8 L456.9,340.6 L457.1,342.3 L457.1,343.9 L457.1,345.5 L456.9,346.9 L456.5,348.2 L456.1,349.4 L455.5,350.5 L454.9,351.4 L454.1,352.2 L444.5,359.6 L442.5,360.8 L441.9,361.0 L441.2,361.0 L440.5,360.8 L439.7,360.5 L438.9,359.9 L438.1,359.2 L437.3,358.4 L436.6,357.5 L435.9,356.4 L435.4,355.4 L426.4,335.1 L425.5,333.2 L424.8,331.2 L424.2,329.3 L423.6,327.4 L423.2,325.6 L422.9,323.8 L422.8,322.1 Z" fill="#fff" stroke="#111" stroke-width="1.1" stroke-linejoin="round" />
<path d="M442.5,360.8 L452.1,353.4 L452.9,352.6 L453.5,351.7 L454.1,350.6 L454.5,349.4 L454.9,348.1 L455.1,346.6 L455.2,345.1 L455.1,343.4 L455.0,341.7 L454.7,339.9 L454.3,338.1 L453.7,336.2 L453.1,334.3 L452.4,332.3 L451.5,330.4 L442.5,310.1 L441.9,309.0 L441.3,308.0 L440.6,307.1 L439.8,306.3 L439.0,305.6 L438.2,305.0 L437.4,304.7 L436.7,304.5 L436.0,304.5 L435.4,304.7" fill="none" stroke="#111" stroke-width="1.1" stroke-linejoin="round" />
<ellipse cx="438.9" cy="332.8" rx="18.3" ry="9.2" transform="rotate(60 438.9 332.8)" fill="#fff" stroke="#111" stroke-width="1.1"/>
<path d="M437.0,315.6 L435.8,315.3 L434.6,315.1 L433.5,315.2 L432.5,315.4 L431.6,315.9 L430.8,316.5 L430.2,317.3 L429.6,318.3 L429.2,319.4 L429.0,320.7 L428.8,322.1 L428.9,323.6 L429.0,325.2 L429.3,326.9 L429.8,328.7 L430.4,330.5 L431.1,332.3 L431.9,334.1 L432.8,335.8 L433.8,337.5 L435.0,339.2 L436.1,340.7 L437.4,342.2 L438.7,343.5" fill="none" stroke="#111" stroke-width="0.9" stroke-linejoin="round" />
<ellipse cx="438.9" cy="310.8" rx="3.1" ry="1.6" transform="rotate(60 438.9 310.8)" fill="none" stroke="#111" stroke-width="1.0"/>
<ellipse cx="439.0" cy="354.7" rx="3.1" ry="1.6" transform="rotate(60 439.0 354.7)" fill="none" stroke="#111" stroke-width="1.0"/>
</g>
<g id="cam">
<path d="M387.9,346.7 L388.0,345.4 L388.1,344.1 L388.4,343.0 L388.7,341.9 L389.1,340.9 L389.7,340.0 L390.3,339.2 L391.0,338.6 L391.8,338.1 L394.4,336.6 L395.2,336.1 L396.1,335.9 L397.1,335.7 L398.2,335.7 L399.2,335.8 L400.3,336.0 L401.5,336.4 L402.6,336.9 L403.8,337.5 L404.9,338.3 L406.1,339.1 L407.2,340.1 L408.4,341.1 L409.4,342.3 L410.5,343.5 L411.5,344.8 L412.4,346.2 L413.2,347.6 L414.1,349.0 L414.8,350.5 L415.4,352.0 L415.9,353.5 L416.4,355.1 L416.8,356.5 L417.0,358.0 L417.2,359.4 L417.2,360.8 L417.2,362.1 L417.0,363.4 L416.8,364.5 L416.4,365.6 L416.0,366.6 L415.5,367.5 L414.9,368.3 L414.2,368.9 L413.4,369.4 L410.8,370.9 L409.9,371.4 L409.0,371.6 L408.0,371.8 L407.0,371.8 L405.9,371.7 L404.8,371.5 L403.7,371.1 L402.5,370.6 L401.4,370.0 L400.2,369.2 L399.0,368.4 L397.9,367.4 L396.8,366.4 L395.7,365.2 L394.7,364.0 L393.7,362.7 L392.8,361.3 L391.9,359.9 L391.1,358.5 L390.4,357.0 L389.8,355.5 L389.2,354.0 L388.8,352.4 L388.4,351.0 L388.1,349.5 L388.0,348.1 Z" fill="#fff" stroke="#1a1a1a" stroke-width="1.25" stroke-linejoin="round" />
<path d="M410.8,371.0 L411.6,370.4 L412.3,369.8 L412.9,369.0 L413.4,368.1 L413.8,367.1 L414.2,366.0 L414.4,364.9 L414.6,363.6 L414.6,362.3 L414.6,360.9 L414.4,359.5 L414.1,358.0 L413.8,356.5 L413.3,355.0 L412.8,353.5 L412.2,352.0 L411.4,350.5 L410.7,349.1 L409.8,347.7 L408.9,346.3 L407.9,345.0 L406.8,343.8 L405.8,342.6 L404.6,341.6 L403.5,340.6 L402.4,339.8 L401.2,339.0 L400.0,338.4 L398.9,337.9 L397.7,337.5 L396.6,337.3 L395.6,337.2 L394.5,337.2 L393.5,337.4 L392.6,337.6 L391.8,338.0" fill="none" stroke="#1a1a1a" stroke-width="1.25" stroke-linejoin="round" />
<path d="M365.6,358.8 L365.6,357.4 L365.8,356.1 L366.0,354.9 L366.4,353.7 L366.9,352.7 L367.4,351.7 L368.1,350.9 L368.8,350.2 L369.6,349.7 L391.3,337.2 L392.2,336.8 L393.1,336.4 L394.2,336.3 L395.3,336.3 L396.4,336.4 L397.6,336.6 L398.8,337.0 L400.0,337.6 L401.2,338.2 L402.4,339.0 L403.6,339.9 L404.8,340.9 L406.0,342.0 L407.1,343.2 L408.2,344.5 L409.3,345.9 L410.2,347.3 L411.1,348.8 L412.0,350.3 L412.7,351.9 L413.4,353.5 L414.0,355.1 L414.4,356.6 L414.8,358.2 L415.1,359.8 L415.3,361.3 L415.3,362.7 L415.3,364.1 L415.1,365.4 L414.9,366.6 L414.5,367.8 L414.1,368.8 L413.5,369.8 L412.8,370.6 L412.1,371.3 L411.3,371.8 L389.6,384.3 L388.7,384.8 L387.8,385.1 L386.7,385.2 L385.6,385.2 L384.5,385.1 L383.4,384.9 L382.1,384.5 L380.9,383.9 L379.7,383.3 L378.5,382.5 L377.3,381.6 L376.1,380.6 L374.9,379.5 L373.8,378.3 L372.7,377.0 L371.6,375.6 L370.7,374.2 L369.8,372.7 L368.9,371.2 L368.2,369.6 L367.5,368.0 L366.9,366.4 L366.4,364.9 L366.1,363.3 L365.8,361.7 L365.6,360.2 Z" fill="#fff" stroke="#1a1a1a" stroke-width="1.25" stroke-linejoin="round" />
<path d="M389.6,384.3 L390.4,383.8 L391.2,383.1 L391.8,382.3 L392.4,381.3 L392.9,380.3 L393.2,379.1 L393.5,377.9 L393.6,376.6 L393.7,375.2 L393.6,373.8 L393.4,372.3 L393.2,370.7 L392.8,369.2 L392.3,367.6 L391.8,366.0 L391.1,364.4 L390.3,362.8 L389.5,361.3 L388.6,359.8 L387.6,358.4 L386.6,357.0 L385.5,355.7 L384.3,354.5 L383.2,353.4 L382.0,352.4 L380.8,351.5 L379.5,350.7 L378.3,350.1 L377.1,349.5 L375.9,349.1 L374.7,348.9 L373.6,348.8 L372.5,348.8 L371.5,349.0 L370.5,349.2 L369.6,349.7" fill="none" stroke="#1a1a1a" stroke-width="1.25" stroke-linejoin="round" />
<path d="M363.7,365.7 L363.7,364.9 L363.8,364.0 L364.0,363.2 L364.2,362.5 L364.5,361.8 L364.9,361.2 L365.3,360.7 L365.8,360.3 L366.3,359.9 L373.2,355.9 L373.8,355.6 L374.4,355.4 L375.1,355.4 L375.8,355.3 L376.5,355.4 L377.2,355.6 L378.0,355.8 L378.8,356.2 L379.6,356.6 L380.4,357.1 L381.1,357.6 L381.9,358.3 L382.6,359.0 L383.4,359.8 L384.1,360.6 L384.7,361.5 L385.4,362.4 L385.9,363.4 L386.5,364.3 L387.0,365.3 L387.4,366.4 L387.8,367.4 L388.1,368.4 L388.3,369.4 L388.5,370.4 L388.6,371.3 L388.6,372.3 L388.6,373.1 L388.5,374.0 L388.3,374.8 L388.1,375.5 L387.8,376.2 L387.4,376.8 L387.0,377.3 L386.6,377.7 L386.0,378.1 L379.1,382.1 L378.5,382.4 L377.9,382.6 L377.2,382.6 L376.6,382.7 L375.8,382.6 L375.1,382.4 L374.3,382.2 L373.5,381.8 L372.8,381.4 L372.0,380.9 L371.2,380.4 L370.4,379.7 L369.7,379.0 L368.9,378.2 L368.2,377.4 L367.6,376.5 L367.0,375.6 L366.4,374.6 L365.9,373.7 L365.4,372.7 L364.9,371.6 L364.6,370.6 L364.3,369.6 L364.0,368.6 L363.9,367.6 L363.7,366.7 Z" fill="#fff" stroke="#1a1a1a" stroke-width="1.25" stroke-linejoin="round" />
<path d="M379.1,382.1 L379.6,381.7 L380.1,381.3 L380.5,380.8 L380.9,380.2 L381.2,379.5 L381.4,378.8 L381.6,378.0 L381.7,377.1 L381.7,376.3 L381.7,375.3 L381.5,374.4 L381.4,373.4 L381.1,372.4 L380.8,371.4 L380.5,370.3 L380.0,369.3 L379.5,368.3 L379.0,367.4 L378.4,366.4 L377.8,365.5 L377.1,364.6 L376.4,363.8 L375.7,363.0 L375.0,362.3 L374.2,361.7 L373.4,361.1 L372.6,360.6 L371.9,360.2 L371.1,359.8 L370.3,359.6 L369.6,359.4 L368.8,359.3 L368.2,359.3 L367.5,359.4 L366.9,359.6 L366.3,359.9" fill="none" stroke="#1a1a1a" stroke-width="1.25" stroke-linejoin="round" />
<path d="M350.2,370.9 L350.2,369.8 L350.4,368.8 L350.6,367.8 L350.9,366.9 L351.2,366.0 L351.7,365.3 L352.2,364.6 L352.8,364.1 L353.4,363.6 L364.7,357.1 L365.4,356.8 L366.2,356.6 L367.0,356.4 L367.9,356.4 L368.8,356.5 L369.7,356.7 L370.7,357.0 L371.6,357.4 L372.6,358.0 L373.6,358.6 L377.7,361.6 L378.3,361.9 L378.8,362.4 L379.3,362.9 L379.8,363.4 L380.3,364.0 L380.8,364.6 L381.2,365.2 L381.6,365.9 L381.9,366.6 L382.3,367.2 L382.6,367.9 L382.8,368.6 L383.0,369.3 L383.2,370.0 L383.3,370.7 L383.4,371.4 L383.9,376.4 L383.9,377.6 L383.9,378.7 L383.8,379.7 L383.6,380.7 L383.3,381.6 L382.9,382.5 L382.5,383.2 L381.9,383.9 L381.4,384.4 L380.7,384.9 L369.4,391.4 L368.7,391.7 L367.9,391.9 L367.1,392.1 L366.3,392.1 L365.4,392.0 L364.4,391.8 L363.5,391.5 L362.5,391.1 L361.5,390.5 L360.5,389.9 L359.6,389.2 L358.6,388.4 L357.7,387.5 L356.8,386.5 L355.9,385.5 L355.1,384.4 L354.3,383.2 L353.5,382.1 L352.9,380.8 L352.3,379.6 L351.7,378.3 L351.3,377.1 L350.9,375.8 L350.6,374.5 L350.4,373.3 L350.2,372.1 Z" fill="#fff" stroke="#1a1a1a" stroke-width="1.25" stroke-linejoin="round" />
<path d="M369.4,391.4 L370.1,390.9 L370.7,390.4 L371.2,389.7 L371.7,389.0 L372.0,388.1 L372.3,387.2 L372.5,386.2 L372.6,385.2 L372.7,384.1 L372.6,382.9 L372.1,377.9 L372.1,377.2 L371.9,376.5 L371.8,375.8 L371.6,375.1 L371.3,374.4 L371.0,373.7 L370.7,373.0 L370.3,372.4 L369.9,371.7 L369.5,371.1 L369.0,370.5 L368.6,369.9 L368.1,369.4 L367.5,368.9 L367.0,368.4 L366.5,368.1 L362.4,365.1 L361.4,364.5 L360.4,364.0 L359.4,363.5 L358.5,363.2 L357.5,363.0 L356.6,362.9 L355.8,362.9 L354.9,363.1 L354.2,363.3 L353.4,363.6" fill="none" stroke="#1a1a1a" stroke-width="1.25" stroke-linejoin="round" />
<path d="M335.1,382.2 L335.1,381.4 L335.2,380.5 L335.4,379.7 L335.6,379.0 L335.9,378.3 L336.3,377.7 L336.7,377.2 L337.2,376.8 L337.7,376.4 L355.0,366.4 L355.6,366.1 L356.2,365.9 L356.9,365.9 L357.6,365.8 L358.3,365.9 L359.1,366.1 L359.8,366.3 L360.6,366.7 L361.4,367.1 L362.2,367.6 L362.9,368.1 L363.7,368.8 L364.5,369.5 L365.2,370.3 L365.9,371.1 L366.6,372.0 L367.2,372.9 L367.8,373.9 L368.3,374.8 L368.8,375.8 L369.2,376.9 L369.6,377.9 L369.9,378.9 L370.1,379.9 L370.3,380.9 L370.4,381.8 L370.4,382.8 L370.4,383.6 L370.3,384.5 L370.1,385.3 L369.9,386.0 L369.6,386.7 L369.3,387.3 L368.8,387.8 L368.4,388.2 L367.8,388.6 L350.5,398.6 L349.9,398.9 L349.3,399.1 L348.7,399.1 L348.0,399.2 L347.2,399.1 L346.5,398.9 L345.7,398.7 L345.0,398.3 L344.2,397.9 L343.4,397.4 L342.6,396.9 L341.9,396.2 L341.1,395.5 L340.4,394.7 L339.7,393.9 L339.0,393.0 L338.4,392.1 L337.8,391.1 L337.3,390.2 L336.8,389.2 L336.4,388.1 L336.0,387.1 L335.7,386.1 L335.4,385.1 L335.3,384.1 L335.2,383.2 Z" fill="#fff" stroke="#1a1a1a" stroke-width="1.25" stroke-linejoin="round" />
<path d="M350.5,398.6 L351.0,398.2 L351.5,397.8 L351.9,397.3 L352.3,396.7 L352.6,396.0 L352.8,395.3 L353.0,394.5 L353.1,393.6 L353.1,392.8 L353.1,391.8 L353.0,390.9 L352.8,389.9 L352.5,388.9 L352.2,387.9 L351.9,386.8 L351.5,385.8 L351.0,384.8 L350.4,383.9 L349.9,382.9 L349.2,382.0 L348.6,381.1 L347.9,380.3 L347.1,379.5 L346.4,378.8 L345.6,378.2 L344.8,377.6 L344.1,377.1 L343.3,376.7 L342.5,376.3 L341.7,376.1 L341.0,375.9 L340.3,375.8 L339.6,375.8 L338.9,375.9 L338.3,376.1 L337.7,376.4" fill="none" stroke="#1a1a1a" stroke-width="1.25" stroke-linejoin="round" />
<path d="M319.5,388.2 L319.6,387.1 L319.7,386.0 L319.9,385.0 L320.2,384.0 L320.6,383.2 L321.1,382.4 L321.6,381.8 L322.2,381.2 L322.9,380.7 L335.9,373.2 L336.6,372.9 L337.4,372.6 L338.3,372.5 L339.1,372.5 L340.1,372.6 L341.1,372.8 L342.0,373.1 L343.0,373.5 L344.0,374.1 L345.1,374.7 L349.3,377.8 L349.8,378.2 L350.4,378.6 L350.9,379.1 L351.4,379.7 L351.9,380.3 L352.4,380.9 L352.8,381.6 L353.2,382.2 L353.6,382.9 L354.0,383.6 L354.3,384.4 L354.5,385.1 L354.8,385.8 L354.9,386.5 L355.1,387.2 L355.1,387.9 L355.7,393.1 L355.7,394.3 L355.7,395.4 L355.6,396.5 L355.3,397.5 L355.0,398.5 L354.6,399.3 L354.2,400.1 L353.7,400.8 L353.1,401.3 L352.4,401.8 L339.4,409.3 L338.6,409.6 L337.8,409.9 L337.0,410.0 L336.1,410.0 L335.2,409.9 L334.2,409.7 L333.2,409.4 L332.2,409.0 L331.2,408.4 L330.2,407.8 L329.2,407.1 L328.2,406.2 L327.2,405.3 L326.3,404.3 L325.4,403.2 L324.5,402.1 L323.7,400.9 L323.0,399.7 L322.3,398.4 L321.7,397.1 L321.1,395.8 L320.7,394.5 L320.3,393.2 L319.9,391.9 L319.7,390.7 L319.6,389.4 Z" fill="#fff" stroke="#1a1a1a" stroke-width="1.25" stroke-linejoin="round" />
<path d="M339.4,409.3 L340.1,408.8 L340.7,408.3 L341.2,407.6 L341.7,406.8 L342.0,406.0 L342.3,405.0 L342.6,404.0 L342.7,402.9 L342.7,401.8 L342.7,400.6 L342.1,395.4 L342.1,394.7 L341.9,394.0 L341.8,393.3 L341.5,392.6 L341.3,391.9 L341.0,391.1 L340.6,390.4 L340.3,389.7 L339.9,389.1 L339.4,388.4 L338.9,387.8 L338.4,387.2 L337.9,386.6 L337.4,386.1 L336.8,385.7 L336.3,385.3 L332.1,382.2 L331.1,381.6 L330.0,381.0 L329.0,380.6 L328.1,380.3 L327.1,380.1 L326.2,380.0 L325.3,380.0 L324.4,380.1 L323.6,380.4 L322.9,380.7" fill="none" stroke="#1a1a1a" stroke-width="1.25" stroke-linejoin="round" />
<path d="M306.6,398.7 L306.6,397.9 L306.7,397.0 L306.8,396.2 L307.1,395.5 L307.4,394.8 L307.7,394.2 L308.1,393.7 L308.6,393.3 L309.1,392.9 L324.7,383.9 L325.3,383.6 L325.9,383.4 L326.6,383.4 L327.3,383.3 L328.0,383.4 L328.7,383.6 L329.5,383.8 L330.3,384.2 L331.1,384.6 L331.9,385.1 L332.6,385.6 L333.4,386.3 L334.1,387.0 L334.9,387.8 L335.6,388.6 L336.2,389.5 L336.9,390.4 L337.4,391.4 L338.0,392.3 L338.5,393.3 L338.9,394.4 L339.2,395.4 L339.6,396.4 L339.8,397.4 L340.0,398.4 L340.1,399.3 L340.1,400.3 L340.1,401.1 L340.0,402.0 L339.8,402.8 L339.6,403.5 L339.3,404.2 L338.9,404.8 L338.5,405.3 L338.1,405.7 L337.5,406.1 L321.9,415.1 L321.4,415.4 L320.8,415.6 L320.1,415.6 L319.4,415.7 L318.7,415.6 L317.9,415.4 L317.2,415.2 L316.4,414.8 L315.6,414.4 L314.8,413.9 L314.0,413.4 L313.3,412.7 L312.5,412.0 L311.8,411.2 L311.1,410.4 L310.4,409.5 L309.8,408.6 L309.2,407.6 L308.7,406.7 L308.2,405.7 L307.8,404.6 L307.4,403.6 L307.1,402.6 L306.9,401.6 L306.7,400.6 L306.6,399.7 Z" fill="#fff" stroke="#1a1a1a" stroke-width="1.25" stroke-linejoin="round" />
<path d="M321.9,415.1 L322.5,414.7 L322.9,414.3 L323.4,413.8 L323.7,413.2 L324.0,412.5 L324.2,411.8 L324.4,411.0 L324.5,410.1 L324.5,409.3 L324.5,408.3 L324.4,407.4 L324.2,406.4 L324.0,405.4 L323.7,404.4 L323.3,403.3 L322.9,402.3 L322.4,401.3 L321.9,400.4 L321.3,399.4 L320.7,398.5 L320.0,397.6 L319.3,396.8 L318.6,396.0 L317.8,395.3 L317.0,394.7 L316.3,394.1 L315.5,393.6 L314.7,393.2 L313.9,392.8 L313.2,392.6 L312.4,392.4 L311.7,392.3 L311.0,392.3 L310.3,392.4 L309.7,392.6 L309.1,392.9" fill="none" stroke="#1a1a1a" stroke-width="1.25" stroke-linejoin="round" />
<path d="M288.5,403.3 L288.5,401.9 L288.7,400.6 L288.9,399.4 L289.3,398.2 L289.8,397.2 L290.3,396.2 L291.0,395.4 L291.7,394.7 L292.6,394.2 L305.5,386.7 L306.4,386.2 L307.4,385.9 L308.4,385.8 L309.5,385.8 L310.6,385.9 L311.8,386.1 L313.0,386.5 L314.2,387.1 L315.4,387.7 L316.7,388.5 L317.9,389.4 L319.1,390.4 L320.3,391.5 L321.4,392.7 L322.5,394.0 L323.5,395.4 L324.5,396.8 L325.4,398.3 L326.2,399.8 L327.0,401.4 L327.7,403.0 L328.2,404.6 L328.7,406.1 L329.1,407.7 L329.4,409.3 L329.5,410.8 L329.6,412.2 L329.6,413.6 L329.4,414.9 L329.1,416.1 L328.8,417.3 L328.3,418.3 L327.8,419.3 L327.1,420.1 L326.4,420.8 L325.5,421.3 L312.6,428.8 L311.6,429.2 L310.7,429.6 L309.6,429.7 L308.6,429.7 L307.4,429.6 L306.3,429.4 L305.1,429.0 L303.9,428.4 L302.6,427.8 L301.4,427.0 L300.2,426.1 L299.0,425.1 L297.8,424.0 L296.7,422.8 L295.6,421.5 L294.6,420.1 L293.6,418.7 L292.7,417.2 L291.8,415.7 L291.1,414.1 L290.4,412.5 L289.9,410.9 L289.4,409.4 L289.0,407.8 L288.7,406.2 L288.6,404.7 Z" fill="#fff" stroke="#1a1a1a" stroke-width="1.25" stroke-linejoin="round" />
<path d="M312.5,428.8 L313.4,428.3 L314.1,427.6 L314.8,426.8 L315.3,425.8 L315.8,424.8 L316.1,423.6 L316.4,422.4 L316.6,421.1 L316.6,419.7 L316.5,418.3 L316.4,416.8 L316.1,415.2 L315.7,413.7 L315.2,412.1 L314.7,410.5 L314.0,408.9 L313.3,407.3 L312.4,405.8 L311.5,404.3 L310.5,402.9 L309.5,401.5 L308.4,400.2 L307.3,399.0 L306.1,397.9 L304.9,396.9 L303.7,396.0 L302.5,395.2 L301.2,394.6 L300.0,394.0 L298.8,393.6 L297.7,393.4 L296.5,393.3 L295.4,393.3 L294.4,393.5 L293.4,393.7 L292.5,394.2" fill="none" stroke="#1a1a1a" stroke-width="1.25" stroke-linejoin="round" />
<path d="M287.5,409.7 L287.5,408.9 L287.6,408.0 L287.8,407.2 L288.0,406.5 L288.3,405.8 L288.7,405.2 L289.1,404.7 L289.6,404.3 L290.1,403.9 L296.1,400.4 L296.7,400.1 L297.3,399.9 L298.0,399.9 L298.7,399.8 L299.4,399.9 L300.2,400.1 L300.9,400.3 L301.7,400.7 L302.5,401.1 L303.3,401.6 L304.1,402.1 L304.8,402.8 L305.6,403.5 L306.3,404.3 L307.0,405.1 L307.7,406.0 L308.3,406.9 L308.9,407.9 L309.4,408.8 L309.9,409.8 L310.3,410.9 L310.7,411.9 L311.0,412.9 L311.2,413.9 L311.4,414.9 L311.5,415.8 L311.5,416.8 L311.5,417.6 L311.4,418.5 L311.2,419.3 L311.0,420.0 L310.7,420.7 L310.4,421.3 L309.9,421.8 L309.5,422.2 L308.9,422.6 L302.9,426.1 L302.3,426.4 L301.7,426.6 L301.0,426.6 L300.3,426.7 L299.6,426.6 L298.9,426.4 L298.1,426.2 L297.3,425.8 L296.5,425.4 L295.8,424.9 L295.0,424.4 L294.2,423.7 L293.5,423.0 L292.7,422.2 L292.0,421.4 L291.4,420.5 L290.8,419.6 L290.2,418.6 L289.6,417.7 L289.1,416.7 L288.7,415.6 L288.4,414.6 L288.1,413.6 L287.8,412.6 L287.6,411.6 L287.5,410.7 Z" fill="#fff" stroke="#1a1a1a" stroke-width="1.25" stroke-linejoin="round" />
<path d="M302.9,426.1 L303.4,425.7 L303.9,425.3 L304.3,424.8 L304.7,424.2 L305.0,423.5 L305.2,422.8 L305.4,422.0 L305.5,421.1 L305.5,420.3 L305.4,419.3 L305.3,418.4 L305.2,417.4 L304.9,416.4 L304.6,415.4 L304.2,414.3 L303.8,413.3 L303.3,412.3 L302.8,411.4 L302.2,410.4 L301.6,409.5 L300.9,408.6 L300.2,407.8 L299.5,407.0 L298.8,406.3 L298.0,405.7 L297.2,405.1 L296.4,404.6 L295.6,404.2 L294.9,403.8 L294.1,403.6 L293.4,403.4 L292.6,403.3 L291.9,403.3 L291.3,403.4 L290.7,403.6 L290.1,403.9" fill="none" stroke="#1a1a1a" stroke-width="1.25" stroke-linejoin="round" />
<path d="M273.5,415.6 L273.5,414.6 L273.9,410.1 L274.0,409.6 L274.1,409.1 L274.2,408.6 L274.4,408.1 L274.7,407.7 L274.9,407.4 L275.3,407.1 L275.6,406.8 L287.7,399.8 L288.1,399.7 L288.5,399.5 L289.0,399.5 L289.4,399.4 L289.9,399.5 L290.4,399.6 L290.9,399.8 L291.4,400.0 L295.5,401.9 L296.4,402.4 L297.4,403.0 L298.3,403.7 L299.2,404.5 L300.1,405.3 L301.0,406.3 L301.9,407.3 L302.7,408.3 L303.4,409.4 L304.1,410.6 L304.8,411.8 L305.4,413.0 L305.9,414.2 L306.3,415.4 L306.7,416.7 L307.0,417.9 L307.2,419.1 L307.3,420.2 L307.4,421.4 L307.3,422.4 L307.2,423.5 L307.0,424.4 L306.8,425.3 L306.4,426.1 L305.9,426.8 L305.4,427.4 L304.9,428.0 L304.2,428.4 L292.1,435.4 L291.4,435.8 L290.7,436.0 L289.9,436.1 L289.0,436.1 L288.1,436.0 L287.2,435.8 L286.3,435.5 L285.4,435.1 L284.4,434.6 L283.5,434.0 L282.5,433.3 L281.6,432.5 L280.7,431.7 L279.8,430.7 L279.0,429.7 L278.2,428.7 L277.4,427.6 L276.7,426.4 L276.1,425.2 L275.5,424.0 L275.0,422.8 L274.5,421.6 L274.1,420.3 L273.9,419.1 L273.6,417.9 L273.5,416.8 Z" fill="#fff" stroke="#1a1a1a" stroke-width="1.25" stroke-linejoin="round" />
<path d="M292.1,435.4 L292.7,435.0 L293.3,434.4 L293.8,433.8 L294.3,433.1 L294.6,432.3 L294.9,431.4 L295.1,430.5 L295.2,429.4 L295.3,428.4 L295.2,427.2 L295.1,426.1 L294.9,424.9 L294.6,423.7 L294.2,422.4 L293.8,421.2 L293.2,420.0 L292.7,418.8 L292.0,417.6 L291.3,416.4 L290.6,415.3 L289.7,414.3 L288.9,413.3 L288.0,412.3 L287.1,411.5 L286.2,410.7 L285.2,410.0 L284.3,409.4 L283.3,408.9 L279.3,407.0 L278.8,406.8 L278.3,406.6 L277.8,406.5 L277.3,406.5 L276.8,406.5 L276.4,406.5 L276.0,406.7 L275.6,406.8" fill="none" stroke="#1a1a1a" stroke-width="1.25" stroke-linejoin="round" />
<path d="M258.1,426.7 L258.1,425.9 L258.2,425.0 L258.3,424.2 L258.6,423.5 L258.9,422.8 L259.2,422.2 L259.6,421.7 L260.1,421.3 L260.6,420.9 L278.0,410.9 L278.5,410.6 L279.2,410.4 L279.8,410.4 L280.5,410.3 L281.2,410.4 L282.0,410.6 L282.7,410.8 L283.5,411.2 L284.3,411.6 L285.1,412.1 L285.9,412.6 L286.6,413.3 L287.4,414.0 L288.1,414.8 L288.8,415.6 L289.5,416.5 L290.1,417.4 L290.7,418.4 L291.2,419.3 L291.7,420.3 L292.1,421.4 L292.5,422.4 L292.8,423.4 L293.0,424.4 L293.2,425.4 L293.3,426.3 L293.4,427.3 L293.3,428.1 L293.2,429.0 L293.1,429.8 L292.8,430.5 L292.5,431.2 L292.2,431.8 L291.8,432.3 L291.3,432.7 L290.8,433.1 L273.4,443.1 L272.9,443.4 L272.2,443.6 L271.6,443.6 L270.9,443.7 L270.2,443.6 L269.4,443.4 L268.7,443.2 L267.9,442.8 L267.1,442.4 L266.3,441.9 L265.5,441.4 L264.8,440.7 L264.0,440.0 L263.3,439.2 L262.6,438.4 L261.9,437.5 L261.3,436.6 L260.7,435.6 L260.2,434.7 L259.7,433.7 L259.3,432.6 L258.9,431.6 L258.6,430.6 L258.4,429.6 L258.2,428.6 L258.1,427.7 Z" fill="#fff" stroke="#1a1a1a" stroke-width="1.25" stroke-linejoin="round" />
<path d="M273.4,443.1 L274.0,442.7 L274.4,442.3 L274.9,441.8 L275.2,441.2 L275.5,440.5 L275.7,439.8 L275.9,439.0 L276.0,438.1 L276.0,437.3 L276.0,436.3 L275.9,435.4 L275.7,434.4 L275.5,433.4 L275.2,432.4 L274.8,431.3 L274.4,430.3 L273.9,429.3 L273.4,428.4 L272.8,427.4 L272.2,426.5 L271.5,425.6 L270.8,424.8 L270.1,424.0 L269.3,423.3 L268.5,422.7 L267.8,422.1 L267.0,421.6 L266.2,421.2 L265.4,420.8 L264.7,420.6 L263.9,420.4 L263.2,420.3 L262.5,420.3 L261.8,420.4 L261.2,420.6 L260.6,420.9" fill="none" stroke="#1a1a1a" stroke-width="1.25" stroke-linejoin="round" />
<path d="M239.7,435.1 L239.7,434.1 L239.8,433.0 L240.1,432.1 L240.3,431.2 L240.7,430.4 L241.1,429.7 L241.6,429.1 L242.2,428.5 L242.8,428.1 L259.3,418.6 L260.0,418.2 L260.7,418.0 L261.5,417.9 L262.4,417.9 L263.2,418.0 L264.2,418.2 L265.1,418.5 L266.0,418.9 L267.0,419.4 L267.9,420.0 L268.9,420.7 L269.8,421.5 L270.7,422.3 L271.6,423.3 L272.4,424.3 L273.2,425.3 L274.0,426.4 L274.7,427.6 L275.3,428.8 L275.9,430.0 L276.4,431.2 L276.9,432.4 L277.2,433.7 L277.5,434.9 L277.8,436.1 L277.9,437.2 L277.9,438.4 L277.9,439.4 L277.8,440.5 L277.6,441.4 L276.8,444.1 L276.7,444.6 L276.5,445.0 L276.2,445.4 L276.0,445.8 L275.6,446.1 L275.3,446.3 L258.8,455.8 L258.5,456.0 L258.0,456.1 L257.6,456.2 L257.1,456.2 L256.7,456.1 L256.2,456.0 L253.5,455.3 L252.6,455.0 L251.6,454.6 L250.7,454.1 L249.7,453.5 L248.8,452.8 L247.8,452.0 L246.9,451.2 L246.1,450.2 L245.2,449.2 L244.4,448.2 L243.6,447.1 L242.9,445.9 L242.3,444.7 L241.7,443.5 L241.2,442.3 L240.8,441.1 L240.4,439.8 L240.1,438.6 L239.9,437.4 L239.8,436.3 Z" fill="#fff" stroke="#1a1a1a" stroke-width="1.25" stroke-linejoin="round" />
<path d="M258.8,455.8 L259.2,455.6 L259.5,455.3 L259.8,454.9 L260.0,454.5 L260.2,454.1 L260.4,453.6 L261.1,450.9 L261.3,450.0 L261.4,448.9 L261.5,447.9 L261.4,446.7 L261.3,445.6 L261.1,444.4 L260.8,443.2 L260.4,441.9 L260.0,440.7 L259.5,439.5 L258.9,438.3 L258.2,437.1 L257.5,435.9 L256.8,434.8 L256.0,433.8 L255.1,432.8 L254.2,431.8 L253.3,431.0 L252.4,430.2 L251.5,429.5 L250.5,428.9 L249.6,428.4 L248.6,428.0 L247.7,427.7 L246.8,427.5 L245.9,427.4 L245.1,427.4 L244.3,427.5 L243.5,427.7 L242.8,428.1" fill="none" stroke="#1a1a1a" stroke-width="1.25" stroke-linejoin="round" />
<path d="M223.2,445.2 L227.6,442.6 L237.2,437.1 L247.7,455.3 L233.7,463.4 Z" fill="#fff" stroke="#1a1a1a" stroke-width="1.25" stroke-linejoin="round" />
<path d="M227.6,442.6 L238.1,460.8 L233.7,463.4" fill="none" stroke="#1a1a1a" stroke-width="1.25" stroke-linejoin="round" />
<path d="M219.0,451.2 L219.0,450.5 L219.1,449.8 L219.2,449.1 L219.4,448.5 L219.6,448.0 L219.9,447.5 L220.3,447.1 L220.7,446.7 L221.1,446.4 L225.4,443.9 L225.9,443.7 L226.4,443.5 L226.9,443.4 L227.5,443.4 L228.1,443.5 L228.7,443.6 L229.3,443.8 L230.0,444.1 L230.6,444.4 L231.3,444.9 L231.9,445.3 L232.5,445.9 L233.2,446.4 L233.7,447.1 L234.3,447.8 L234.9,448.5 L235.4,449.2 L235.8,450.0 L236.3,450.8 L236.7,451.6 L237.0,452.5 L237.3,453.3 L237.6,454.1 L237.8,455.0 L237.9,455.8 L238.0,456.6 L238.1,457.3 L238.0,458.0 L237.9,458.7 L237.8,459.4 L237.6,460.0 L237.4,460.5 L237.1,461.0 L236.7,461.4 L236.3,461.8 L235.9,462.1 L231.6,464.6 L231.1,464.8 L230.6,465.0 L230.1,465.1 L229.5,465.1 L228.9,465.0 L228.3,464.9 L227.7,464.7 L227.0,464.4 L226.4,464.1 L225.7,463.6 L225.1,463.2 L224.5,462.6 L223.9,462.1 L223.3,461.4 L222.7,460.7 L222.2,460.0 L221.6,459.3 L221.2,458.5 L220.7,457.7 L220.3,456.9 L220.0,456.0 L219.7,455.2 L219.4,454.4 L219.2,453.5 L219.1,452.7 L219.0,451.9 Z" fill="#fff" stroke="#1a1a1a" stroke-width="1.25" stroke-linejoin="round" />
<path d="M231.6,464.6 L232.0,464.3 L232.4,463.9 L232.8,463.5 L233.0,463.0 L233.3,462.5 L233.5,461.9 L233.6,461.2 L233.7,460.5 L233.7,459.8 L233.7,459.1 L233.6,458.3 L233.5,457.5 L233.3,456.6 L233.0,455.8 L232.7,455.0 L232.4,454.1 L232.0,453.3 L231.5,452.5 L231.0,451.7 L230.5,451.0 L230.0,450.3 L229.4,449.6 L228.8,448.9 L228.2,448.4 L227.6,447.8 L226.9,447.4 L226.3,447.0 L225.6,446.6 L225.0,446.3 L224.4,446.1 L223.8,446.0 L223.2,445.9 L222.6,445.9 L222.1,446.0 L221.6,446.2 L221.1,446.4" fill="none" stroke="#1a1a1a" stroke-width="1.25" stroke-linejoin="round" />
<path d="M197.8,455.9 L197.8,454.5 L198.0,453.2 L198.2,452.0 L198.6,450.9 L199.0,449.9 L199.6,449.0 L200.2,448.2 L201.0,447.5 L201.8,446.9 L216.5,438.4 L217.4,438.0 L218.3,437.7 L219.3,437.6 L220.4,437.6 L221.5,437.7 L222.7,437.9 L223.8,438.3 L225.0,438.8 L226.2,439.5 L227.5,440.2 L228.7,441.1 L229.8,442.1 L231.0,443.2 L232.1,444.4 L233.2,445.7 L234.2,447.0 L235.2,448.4 L236.1,449.9 L236.9,451.4 L237.6,452.9 L238.3,454.5 L238.8,456.1 L239.3,457.6 L239.7,459.2 L239.9,460.7 L240.1,462.2 L240.2,463.6 L240.1,465.0 L240.0,466.2 L239.7,467.5 L239.4,468.6 L238.9,469.6 L238.4,470.5 L237.7,471.3 L237.0,472.0 L236.2,472.6 L221.5,481.1 L220.6,481.5 L219.6,481.8 L218.6,481.9 L217.6,481.9 L216.4,481.8 L215.3,481.6 L214.1,481.2 L212.9,480.7 L211.7,480.0 L210.5,479.3 L209.3,478.4 L208.1,477.4 L207.0,476.3 L205.8,475.1 L204.8,473.8 L203.8,472.5 L202.8,471.1 L201.9,469.6 L201.1,468.1 L200.3,466.6 L199.7,465.0 L199.1,463.4 L198.6,461.9 L198.3,460.3 L198.0,458.8 L197.8,457.3 Z" fill="#fff" stroke="#1a1a1a" stroke-width="1.25" stroke-linejoin="round" />
<path d="M221.5,481.1 L222.3,480.5 L223.0,479.8 L223.6,479.0 L224.2,478.1 L224.7,477.1 L225.0,476.0 L225.3,474.8 L225.4,473.5 L225.5,472.1 L225.4,470.7 L225.2,469.2 L225.0,467.7 L224.6,466.1 L224.1,464.6 L223.6,463.0 L222.9,461.4 L222.2,459.9 L221.3,458.4 L220.4,456.9 L219.5,455.5 L218.5,454.2 L217.4,452.9 L216.3,451.7 L215.1,450.6 L213.9,449.6 L212.7,448.7 L211.5,448.0 L210.3,447.3 L209.1,446.8 L207.9,446.4 L206.8,446.2 L205.7,446.0 L204.6,446.1 L203.6,446.2 L202.7,446.5 L201.8,446.9" fill="none" stroke="#1a1a1a" stroke-width="1.25" stroke-linejoin="round" />
<path d="M196.6,462.2 L196.6,461.4 L196.7,460.5 L196.8,459.7 L197.1,459.0 L197.4,458.3 L197.7,457.7 L198.2,457.2 L198.6,456.8 L199.2,456.4 L205.2,452.9 L205.8,452.6 L206.4,452.4 L207.1,452.4 L207.8,452.3 L208.5,452.4 L209.2,452.6 L210.0,452.8 L210.8,453.2 L211.6,453.6 L212.3,454.1 L213.1,454.6 L213.9,455.3 L214.6,456.0 L215.4,456.8 L216.1,457.6 L216.7,458.5 L217.3,459.4 L217.9,460.4 L218.5,461.3 L218.9,462.3 L219.4,463.4 L219.7,464.4 L220.1,465.4 L220.3,466.4 L220.5,467.4 L220.6,468.3 L220.6,469.3 L220.6,470.1 L220.5,471.0 L220.3,471.8 L220.1,472.5 L219.8,473.2 L219.4,473.8 L219.0,474.3 L218.5,474.7 L218.0,475.1 L211.9,478.6 L211.4,478.9 L210.8,479.1 L210.1,479.1 L209.4,479.2 L208.7,479.1 L207.9,478.9 L207.2,478.7 L206.4,478.3 L205.6,477.9 L204.8,477.4 L204.1,476.9 L203.3,476.2 L202.5,475.5 L201.8,474.7 L201.1,473.9 L200.4,473.0 L199.8,472.1 L199.2,471.1 L198.7,470.2 L198.2,469.2 L197.8,468.1 L197.4,467.1 L197.1,466.1 L196.9,465.1 L196.7,464.1 L196.6,463.2 Z" fill="#fff" stroke="#1a1a1a" stroke-width="1.25" stroke-linejoin="round" />
<path d="M212.0,478.6 L212.5,478.2 L213.0,477.8 L213.4,477.3 L213.7,476.7 L214.0,476.0 L214.3,475.3 L214.4,474.5 L214.5,473.6 L214.5,472.8 L214.5,471.8 L214.4,470.9 L214.2,469.9 L214.0,468.9 L213.7,467.9 L213.3,466.8 L212.9,465.8 L212.4,464.8 L211.9,463.9 L211.3,462.9 L210.7,462.0 L210.0,461.1 L209.3,460.3 L208.6,459.5 L207.8,458.8 L207.1,458.2 L206.3,457.6 L205.5,457.1 L204.7,456.7 L203.9,456.3 L203.2,456.1 L202.4,455.9 L201.7,455.8 L201.0,455.8 L200.3,455.9 L199.7,456.1 L199.2,456.4" fill="none" stroke="#1a1a1a" stroke-width="1.25" stroke-linejoin="round" />
<path d="M180.0,460.4 L180.1,459.8 L180.1,459.2 L180.2,458.7 L180.4,458.1 L180.6,457.7 L180.8,457.3 L181.1,456.9 L181.4,456.6 L181.8,456.4 L194.8,448.9 L195.2,448.7 L195.6,448.6 L196.1,448.5 L196.6,448.5 L197.1,448.5 L197.6,448.6 L198.1,448.8 L198.6,449.1 L199.2,449.3 L199.7,449.7 L200.2,450.1 L207.4,455.8 L208.4,456.6 L209.3,457.5 L210.2,458.5 L211.1,459.5 L211.9,460.6 L212.7,461.8 L213.4,462.9 L214.1,464.2 L214.7,465.4 L215.2,466.7 L215.7,467.9 L216.1,469.2 L216.4,470.5 L216.6,471.7 L216.8,472.9 L216.8,474.1 L216.8,475.2 L216.6,476.2 L216.4,477.2 L216.1,478.1 L215.8,479.0 L215.3,479.7 L214.8,480.4 L214.2,480.9 L213.6,481.4 L200.6,488.9 L199.8,489.2 L199.1,489.4 L198.2,489.6 L197.4,489.6 L196.5,489.5 L195.5,489.3 L194.6,489.0 L193.6,488.6 L192.6,488.0 L191.7,487.4 L190.7,486.7 L189.7,485.9 L188.8,485.0 L187.9,484.0 L187.0,483.0 L186.2,481.9 L185.4,480.8 L184.7,479.6 L184.0,478.3 L183.4,477.1 L182.9,475.8 L182.4,474.6 L182.0,473.3 L181.7,472.0 L181.5,470.8 L180.1,461.7 L180.1,461.0 Z" fill="#fff" stroke="#1a1a1a" stroke-width="1.25" stroke-linejoin="round" />
<path d="M200.6,488.9 L201.2,488.4 L201.8,487.9 L202.3,487.2 L202.8,486.5 L203.2,485.6 L203.4,484.7 L203.7,483.7 L203.8,482.7 L203.8,481.6 L203.8,480.4 L203.6,479.2 L203.4,478.0 L203.1,476.7 L202.7,475.5 L202.3,474.2 L201.7,472.9 L201.1,471.7 L200.5,470.4 L199.7,469.3 L199.0,468.1 L198.1,467.0 L197.3,466.0 L196.3,465.0 L195.4,464.1 L194.4,463.3 L187.2,457.6 L186.7,457.2 L186.2,456.8 L185.6,456.6 L185.1,456.3 L184.6,456.1 L184.1,456.0 L183.6,456.0 L183.1,456.0 L182.6,456.1 L182.2,456.2 L181.8,456.4" fill="none" stroke="#1a1a1a" stroke-width="1.25" stroke-linejoin="round" />
<path d="M168.0,478.7 L168.0,477.9 L168.1,477.0 L168.3,476.2 L168.5,475.5 L168.8,474.8 L169.2,474.2 L169.6,473.7 L170.1,473.3 L170.6,472.9 L186.2,463.9 L186.7,463.6 L187.4,463.4 L188.0,463.4 L188.7,463.3 L189.4,463.4 L190.2,463.6 L190.9,463.8 L191.7,464.2 L192.5,464.6 L193.3,465.1 L194.1,465.6 L194.8,466.3 L195.6,467.0 L196.3,467.8 L197.0,468.6 L197.7,469.5 L198.3,470.4 L198.9,471.4 L199.4,472.3 L199.9,473.3 L200.3,474.4 L200.7,475.4 L201.0,476.4 L201.2,477.4 L201.4,478.4 L201.5,479.3 L201.6,480.3 L201.5,481.1 L201.4,482.0 L201.3,482.8 L201.0,483.5 L200.7,484.2 L200.4,484.8 L200.0,485.3 L199.5,485.7 L199.0,486.1 L183.4,495.1 L182.8,495.4 L182.2,495.6 L181.5,495.6 L180.8,495.7 L180.1,495.6 L179.4,495.4 L178.6,495.2 L177.8,494.8 L177.0,494.4 L176.2,493.9 L175.5,493.4 L174.7,492.7 L173.9,492.0 L173.2,491.2 L172.5,490.4 L171.9,489.5 L171.2,488.6 L170.7,487.6 L170.1,486.7 L169.6,485.7 L169.2,484.6 L168.8,483.6 L168.5,482.6 L168.3,481.6 L168.1,480.6 L168.0,479.7 Z" fill="#fff" stroke="#1a1a1a" stroke-width="1.25" stroke-linejoin="round" />
<path d="M183.4,495.1 L183.9,494.7 L184.4,494.3 L184.8,493.8 L185.2,493.2 L185.4,492.5 L185.7,491.8 L185.8,491.0 L185.9,490.1 L186.0,489.3 L185.9,488.3 L185.8,487.4 L185.6,486.4 L185.4,485.4 L185.1,484.4 L184.7,483.3 L184.3,482.3 L183.8,481.3 L183.3,480.4 L182.7,479.4 L182.1,478.5 L181.4,477.6 L180.7,476.8 L180.0,476.0 L179.2,475.3 L178.5,474.7 L177.7,474.1 L176.9,473.6 L176.1,473.2 L175.4,472.8 L174.6,472.6 L173.8,472.4 L173.1,472.3 L172.4,472.3 L171.8,472.4 L171.2,472.6 L170.6,472.9" fill="none" stroke="#1a1a1a" stroke-width="1.25" stroke-linejoin="round" />
<path d="M152.2,485.6 L152.3,484.6 L152.7,480.1 L152.7,479.6 L152.8,479.1 L153.0,478.6 L153.2,478.1 L153.4,477.7 L153.7,477.4 L154.0,477.1 L154.4,476.8 L168.2,468.8 L168.6,468.7 L169.0,468.5 L169.5,468.5 L169.9,468.4 L170.4,468.5 L170.9,468.6 L171.4,468.8 L171.9,469.0 L176.0,470.9 L176.9,471.4 L177.9,472.0 L178.8,472.7 L179.7,473.5 L180.6,474.3 L181.5,475.3 L182.4,476.3 L183.2,477.3 L183.9,478.4 L184.6,479.6 L185.3,480.8 L185.8,482.0 L186.4,483.2 L186.8,484.4 L187.2,485.7 L187.5,486.9 L187.7,488.1 L187.8,489.2 L187.9,490.4 L187.8,491.4 L187.7,492.5 L187.5,493.4 L187.2,494.3 L186.9,495.1 L186.4,495.8 L185.9,496.4 L185.4,497.0 L184.7,497.4 L170.9,505.4 L170.2,505.8 L169.4,506.0 L168.6,506.1 L167.8,506.1 L166.9,506.0 L166.0,505.8 L165.1,505.5 L164.1,505.1 L163.2,504.6 L162.2,504.0 L161.3,503.3 L160.4,502.5 L159.5,501.7 L158.6,500.7 L157.7,499.7 L156.9,498.7 L156.2,497.6 L155.5,496.4 L154.8,495.2 L154.2,494.0 L153.7,492.8 L153.3,491.6 L152.9,490.3 L152.6,489.1 L152.4,487.9 L152.3,486.8 Z" fill="#fff" stroke="#1a1a1a" stroke-width="1.25" stroke-linejoin="round" />
<path d="M170.9,505.4 L171.5,505.0 L172.1,504.4 L172.6,503.8 L173.0,503.1 L173.4,502.3 L173.7,501.4 L173.9,500.5 L174.0,499.4 L174.0,498.4 L174.0,497.2 L173.8,496.1 L173.6,494.9 L173.3,493.7 L173.0,492.4 L172.5,491.2 L172.0,490.0 L171.4,488.8 L170.8,487.6 L170.1,486.4 L169.3,485.3 L168.5,484.3 L167.7,483.3 L166.8,482.3 L165.9,481.5 L164.9,480.7 L164.0,480.0 L163.0,479.4 L162.1,478.9 L158.1,477.0 L157.6,476.8 L157.0,476.6 L156.5,476.5 L156.1,476.5 L155.6,476.5 L155.2,476.5 L154.7,476.7 L154.4,476.8" fill="none" stroke="#1a1a1a" stroke-width="1.25" stroke-linejoin="round" />
<path d="M137.7,496.2 L137.7,495.4 L137.8,494.5 L138.0,493.7 L138.2,493.0 L138.5,492.3 L138.8,491.7 L139.3,491.2 L139.7,490.8 L140.3,490.4 L156.7,480.9 L157.3,480.6 L157.9,480.4 L158.6,480.4 L159.3,480.3 L160.0,480.4 L160.7,480.6 L161.5,480.8 L162.3,481.2 L163.1,481.6 L163.8,482.1 L164.6,482.6 L165.4,483.3 L166.1,484.0 L166.9,484.8 L167.6,485.6 L168.2,486.5 L168.9,487.4 L169.4,488.4 L170.0,489.3 L170.4,490.3 L170.9,491.4 L171.2,492.4 L171.6,493.4 L171.8,494.4 L172.0,495.4 L172.1,496.3 L172.1,497.3 L172.1,498.1 L172.0,499.0 L171.8,499.8 L171.6,500.5 L171.3,501.2 L170.9,501.8 L170.5,502.3 L170.1,502.7 L169.5,503.1 L153.1,512.6 L152.5,512.9 L151.9,513.0 L151.2,513.1 L150.5,513.2 L149.8,513.1 L149.1,512.9 L148.3,512.7 L147.5,512.3 L146.7,511.9 L145.9,511.4 L145.2,510.9 L144.4,510.2 L143.6,509.5 L142.9,508.7 L142.2,507.9 L141.6,507.0 L140.9,506.1 L140.3,505.1 L139.8,504.2 L139.3,503.2 L138.9,502.1 L138.5,501.1 L138.2,500.1 L138.0,499.1 L137.8,498.1 L137.7,497.2 Z" fill="#fff" stroke="#1a1a1a" stroke-width="1.25" stroke-linejoin="round" />
<path d="M153.1,512.6 L153.6,512.2 L154.1,511.8 L154.5,511.3 L154.8,510.7 L155.1,510.0 L155.4,509.3 L155.5,508.5 L155.6,507.6 L155.7,506.8 L155.6,505.8 L155.5,504.9 L155.3,503.9 L155.1,502.9 L154.8,501.9 L154.4,500.8 L154.0,499.8 L153.5,498.8 L153.0,497.9 L152.4,496.9 L151.8,496.0 L151.1,495.1 L150.4,494.3 L149.7,493.5 L148.9,492.8 L148.2,492.2 L147.4,491.6 L146.6,491.1 L145.8,490.7 L145.0,490.3 L144.3,490.1 L143.5,489.9 L142.8,489.8 L142.1,489.8 L141.5,489.9 L140.8,490.1 L140.3,490.4" fill="none" stroke="#1a1a1a" stroke-width="1.25" stroke-linejoin="round" />
<path d="M118.4,501.1 L118.5,499.7 L118.6,498.3 L118.9,497.1 L119.2,495.9 L119.7,494.8 L120.3,493.9 L121.0,493.0 L121.7,492.3 L122.6,491.8 L134.7,484.8 L135.6,484.3 L136.6,484.0 L137.7,483.8 L138.8,483.8 L139.9,483.9 L141.1,484.2 L142.3,484.6 L143.6,485.1 L144.8,485.8 L146.1,486.6 L147.3,487.5 L148.6,488.6 L149.8,489.7 L150.9,490.9 L152.1,492.3 L153.1,493.7 L154.1,495.1 L155.1,496.7 L155.9,498.2 L156.7,499.8 L157.4,501.4 L157.9,503.1 L158.4,504.7 L158.8,506.3 L159.1,507.9 L159.3,509.4 L159.3,510.9 L159.3,512.3 L159.1,513.7 L158.9,515.0 L158.5,516.1 L158.0,517.2 L157.4,518.1 L156.8,519.0 L156.0,519.7 L155.2,520.2 L143.1,527.2 L142.1,527.7 L141.2,528.0 L140.1,528.2 L139.0,528.2 L137.8,528.1 L136.6,527.8 L135.4,527.4 L134.2,526.9 L132.9,526.2 L131.6,525.4 L130.4,524.5 L129.2,523.4 L128.0,522.3 L126.8,521.1 L125.7,519.7 L124.6,518.3 L123.6,516.9 L122.7,515.3 L121.8,513.8 L121.1,512.2 L120.4,510.6 L119.8,508.9 L119.3,507.3 L118.9,505.7 L118.6,504.1 L118.5,502.6 Z" fill="#fff" stroke="#1a1a1a" stroke-width="1.25" stroke-linejoin="round" />
<path d="M143.1,527.3 L143.9,526.7 L144.7,526.0 L145.3,525.1 L145.9,524.2 L146.4,523.1 L146.7,522.0 L147.0,520.7 L147.2,519.3 L147.2,517.9 L147.1,516.4 L147.0,514.9 L146.7,513.3 L146.3,511.7 L145.8,510.1 L145.2,508.5 L144.6,506.8 L143.8,505.2 L142.9,503.7 L142.0,502.1 L141.0,500.7 L139.9,499.3 L138.8,497.9 L137.6,496.7 L136.4,495.6 L135.2,494.5 L134.0,493.6 L132.7,492.8 L131.5,492.1 L130.2,491.6 L129.0,491.2 L127.8,490.9 L126.6,490.8 L125.5,490.8 L124.5,491.0 L123.5,491.3 L122.6,491.7" fill="none" stroke="#1a1a1a" stroke-width="1.25" stroke-linejoin="round" />
<path d="M119.5,506.7 L119.5,505.9 L119.6,505.0 L119.8,504.2 L120.0,503.5 L120.3,502.8 L120.7,502.2 L121.1,501.7 L121.5,501.3 L122.1,500.9 L126.4,498.4 L127.0,498.1 L127.6,497.9 L128.3,497.9 L129.0,497.8 L129.7,497.9 L130.4,498.1 L131.2,498.3 L132.0,498.7 L132.8,499.1 L133.5,499.6 L134.3,500.1 L135.1,500.8 L135.8,501.5 L136.6,502.3 L137.3,503.1 L137.9,504.0 L138.5,504.9 L139.1,505.9 L139.7,506.8 L140.1,507.8 L140.6,508.9 L140.9,509.9 L141.2,510.9 L141.5,511.9 L141.7,512.9 L141.8,513.8 L141.8,514.8 L141.8,515.6 L141.7,516.5 L141.5,517.3 L141.3,518.0 L141.0,518.7 L140.6,519.3 L140.2,519.8 L139.7,520.2 L139.2,520.6 L134.9,523.1 L134.3,523.4 L133.7,523.5 L133.0,523.6 L132.3,523.7 L131.6,523.6 L130.9,523.4 L130.1,523.2 L129.3,522.8 L128.5,522.4 L127.8,521.9 L127.0,521.4 L126.2,520.7 L125.5,520.0 L124.7,519.2 L124.0,518.4 L123.4,517.5 L122.7,516.6 L122.2,515.6 L121.6,514.7 L121.1,513.7 L120.7,512.6 L120.3,511.6 L120.0,510.6 L119.8,509.6 L119.6,508.6 L119.5,507.7 Z" fill="#fff" stroke="#1a1a1a" stroke-width="1.25" stroke-linejoin="round" />
<path d="M134.9,523.1 L135.4,522.7 L135.9,522.3 L136.3,521.8 L136.7,521.2 L136.9,520.5 L137.2,519.8 L137.3,519.0 L137.4,518.1 L137.5,517.3 L137.4,516.3 L137.3,515.4 L137.2,514.4 L136.9,513.4 L136.6,512.4 L136.2,511.3 L135.8,510.3 L135.3,509.3 L134.8,508.4 L134.2,507.4 L133.6,506.5 L132.9,505.6 L132.2,504.8 L131.5,504.0 L130.8,503.3 L130.0,502.7 L129.2,502.1 L128.4,501.6 L127.6,501.2 L126.9,500.8 L126.1,500.6 L125.3,500.4 L124.6,500.3 L123.9,500.3 L123.3,500.4 L122.7,500.6 L122.1,500.9" fill="none" stroke="#1a1a1a" stroke-width="1.25" stroke-linejoin="round" />
<path d="M102.5,513.9 L102.5,512.8 L102.7,511.8 L102.9,510.8 L103.2,509.9 L103.5,509.0 L104.0,508.3 L104.5,507.6 L105.1,507.1 L105.8,506.6 L120.5,498.1 L121.2,497.8 L122.0,497.6 L122.8,497.4 L123.7,497.4 L124.6,497.5 L125.5,497.7 L126.5,498.0 L127.4,498.4 L128.4,499.0 L129.4,499.6 L130.4,500.3 L131.3,501.1 L132.3,502.0 L133.2,503.0 L134.0,504.0 L134.9,505.1 L135.7,506.2 L136.4,507.4 L137.0,508.7 L137.7,509.9 L138.2,511.2 L138.6,512.5 L139.0,513.7 L139.3,515.0 L139.5,516.2 L140.5,522.5 L140.5,523.2 L140.6,523.8 L140.5,524.4 L140.5,525.0 L140.4,525.5 L140.2,526.0 L140.0,526.5 L139.8,526.9 L139.5,527.3 L139.1,527.6 L138.8,527.8 L124.0,536.3 L123.7,536.5 L123.2,536.6 L122.8,536.7 L122.3,536.7 L121.8,536.7 L121.3,536.5 L120.8,536.4 L115.8,534.5 L114.8,534.0 L113.8,533.5 L112.8,532.9 L111.9,532.2 L110.9,531.4 L110.0,530.5 L109.1,529.5 L108.2,528.5 L107.4,527.4 L106.6,526.2 L105.9,525.1 L105.2,523.8 L104.6,522.6 L104.1,521.3 L103.6,520.0 L103.2,518.8 L102.9,517.5 L102.7,516.3 L102.6,515.1 Z" fill="#fff" stroke="#1a1a1a" stroke-width="1.25" stroke-linejoin="round" />
<path d="M124.1,536.3 L124.4,536.1 L124.7,535.8 L125.0,535.4 L125.3,535.0 L125.5,534.5 L125.6,534.0 L125.7,533.5 L125.8,532.9 L125.8,532.3 L125.8,531.7 L125.7,531.0 L124.8,524.7 L124.6,523.5 L124.3,522.2 L123.9,521.0 L123.5,519.7 L122.9,518.4 L122.3,517.2 L121.7,515.9 L120.9,514.8 L120.1,513.6 L119.3,512.5 L118.4,511.5 L117.5,510.5 L116.6,509.6 L115.6,508.8 L114.7,508.1 L113.7,507.5 L112.7,507.0 L111.7,506.5 L110.8,506.2 L109.8,506.0 L108.9,505.9 L108.1,505.9 L107.2,506.1 L106.5,506.3 L105.8,506.6" fill="none" stroke="#1a1a1a" stroke-width="1.25" stroke-linejoin="round" />
<path d="M88.3,524.7 L88.3,523.9 L88.4,523.0 L88.6,522.2 L88.8,521.5 L89.1,520.8 L89.5,520.2 L89.9,519.7 L90.4,519.3 L90.9,518.9 L107.4,509.4 L107.9,509.1 L108.5,508.9 L109.2,508.9 L109.9,508.8 L110.6,508.9 L111.4,509.1 L112.1,509.3 L112.9,509.7 L113.7,510.1 L114.5,510.6 L115.3,511.1 L116.0,511.8 L116.8,512.5 L117.5,513.3 L118.2,514.1 L118.9,515.0 L119.5,515.9 L120.1,516.9 L120.6,517.8 L121.1,518.8 L121.5,519.9 L121.9,520.9 L122.2,521.9 L122.4,522.9 L122.6,523.9 L122.7,524.8 L122.8,525.8 L122.7,526.6 L122.6,527.5 L122.5,528.3 L122.2,529.0 L121.9,529.7 L121.6,530.3 L121.2,530.8 L120.7,531.2 L120.2,531.6 L103.7,541.1 L103.1,541.4 L102.5,541.5 L101.8,541.6 L101.2,541.7 L100.4,541.6 L99.7,541.4 L98.9,541.2 L98.1,540.8 L97.4,540.4 L96.6,539.9 L95.8,539.4 L95.0,538.7 L94.3,538.0 L93.5,537.2 L92.8,536.4 L92.2,535.5 L91.6,534.6 L91.0,533.6 L90.5,532.7 L90.0,531.7 L89.5,530.6 L89.2,529.6 L88.9,528.6 L88.6,527.6 L88.5,526.6 L88.3,525.7 Z" fill="#fff" stroke="#1a1a1a" stroke-width="1.25" stroke-linejoin="round" />
<path d="M103.7,541.1 L104.2,540.7 L104.7,540.3 L105.1,539.8 L105.5,539.2 L105.8,538.5 L106.0,537.8 L106.2,537.0 L106.3,536.1 L106.3,535.3 L106.3,534.3 L106.1,533.4 L106.0,532.4 L105.7,531.4 L105.4,530.4 L105.1,529.3 L104.6,528.3 L104.2,527.3 L103.6,526.4 L103.0,525.4 L102.4,524.5 L101.7,523.6 L101.0,522.8 L100.3,522.0 L99.6,521.3 L98.8,520.7 L98.0,520.1 L97.2,519.6 L96.5,519.2 L95.7,518.8 L94.9,518.6 L94.2,518.4 L93.4,518.3 L92.8,518.3 L92.1,518.4 L91.5,518.6 L90.9,518.9" fill="none" stroke="#1a1a1a" stroke-width="1.25" stroke-linejoin="round" />
<path d="M71.7,532.1 L71.7,531.1 L71.8,530.0 L72.0,529.1 L72.3,528.2 L72.7,527.4 L73.1,526.7 L73.6,526.0 L74.2,525.5 L74.8,525.1 L89.5,516.6 L90.2,516.2 L91.0,516.0 L91.8,515.9 L92.6,515.9 L93.5,516.0 L94.4,516.2 L95.3,516.5 L96.3,516.9 L97.2,517.4 L98.2,518.0 L99.1,518.7 L100.0,519.5 L101.0,520.3 L101.8,521.3 L102.7,522.3 L103.5,523.3 L104.2,524.4 L105.0,525.6 L105.6,526.8 L106.2,528.0 L106.7,529.2 L109.2,535.6 L109.5,536.3 L109.7,537.0 L109.9,537.6 L110.0,538.3 L110.0,539.0 L110.1,539.6 L110.0,540.1 L110.0,540.7 L109.9,541.2 L109.7,541.7 L109.5,542.2 L109.3,542.6 L109.0,542.9 L108.7,543.2 L108.3,543.4 L93.6,551.9 L93.2,552.1 L92.8,552.2 L92.4,552.3 L88.1,552.6 L87.2,552.6 L86.4,552.5 L85.5,552.3 L84.5,552.0 L83.6,551.6 L82.7,551.1 L81.7,550.5 L80.8,549.8 L79.8,549.0 L78.9,548.2 L78.0,547.2 L77.2,546.2 L76.4,545.2 L75.6,544.1 L74.9,542.9 L74.3,541.7 L73.7,540.5 L73.2,539.3 L72.7,538.1 L72.4,536.8 L72.1,535.6 L71.9,534.4 L71.7,533.3 Z" fill="#fff" stroke="#1a1a1a" stroke-width="1.25" stroke-linejoin="round" />
<path d="M93.6,551.9 L94.0,551.7 L94.3,551.4 L94.6,551.1 L94.8,550.7 L95.0,550.2 L95.2,549.7 L95.3,549.2 L95.3,548.7 L95.4,548.1 L95.3,547.4 L95.3,546.8 L95.1,546.1 L95.0,545.5 L94.8,544.8 L94.5,544.1 L92.0,537.7 L91.5,536.5 L90.9,535.3 L90.2,534.1 L89.5,532.9 L88.8,531.8 L88.0,530.8 L87.1,529.8 L86.2,528.8 L85.3,528.0 L84.4,527.2 L83.5,526.5 L82.5,525.9 L81.6,525.4 L80.6,525.0 L79.7,524.7 L78.8,524.5 L77.9,524.4 L77.1,524.4 L76.3,524.5 L75.5,524.7 L74.8,525.1" fill="none" stroke="#1a1a1a" stroke-width="1.25" stroke-linejoin="round" />
<path d="M63.4,539.4 L63.4,538.5 L63.5,537.7 L63.7,536.9 L63.9,536.2 L64.2,535.5 L64.5,535.0 L65.0,534.5 L65.4,534.0 L65.9,533.7 L76.3,527.7 L76.9,527.4 L77.5,527.2 L78.1,527.1 L78.8,527.1 L79.5,527.2 L80.2,527.3 L81.0,527.6 L81.8,527.9 L82.5,528.3 L83.3,528.8 L84.0,529.4 L84.8,530.0 L85.5,530.7 L86.2,531.5 L86.9,532.3 L87.6,533.1 L88.2,534.0 L88.8,534.9 L89.3,535.9 L89.7,536.9 L90.2,537.9 L90.5,538.9 L90.8,539.9 L91.0,540.8 L91.2,541.8 L91.3,542.7 L91.4,543.6 L91.3,544.5 L91.2,545.3 L91.1,546.1 L90.8,546.8 L90.6,547.5 L90.2,548.0 L89.8,548.5 L89.3,549.0 L88.8,549.3 L78.4,555.3 L77.9,555.6 L77.3,555.8 L76.6,555.9 L76.0,555.9 L75.2,555.8 L74.5,555.7 L73.8,555.4 L73.0,555.1 L72.2,554.7 L71.5,554.2 L70.7,553.6 L70.0,553.0 L69.2,552.3 L68.5,551.5 L67.8,550.7 L67.2,549.9 L66.6,549.0 L66.0,548.1 L65.5,547.1 L65.0,546.1 L64.6,545.1 L64.2,544.1 L64.0,543.1 L63.7,542.2 L63.5,541.2 L63.4,540.3 Z" fill="#fff" stroke="#1a1a1a" stroke-width="1.25" stroke-linejoin="round" />
<path d="M78.4,555.3 L79.0,555.0 L79.4,554.5 L79.8,554.0 L80.2,553.5 L80.5,552.8 L80.7,552.1 L80.8,551.3 L80.9,550.5 L81.0,549.6 L80.9,548.7 L80.8,547.8 L80.7,546.8 L80.4,545.8 L80.1,544.9 L79.8,543.9 L79.3,542.9 L78.9,541.9 L78.4,540.9 L77.8,540.0 L77.2,539.1 L76.5,538.3 L75.8,537.4 L75.1,536.7 L74.4,536.0 L73.7,535.4 L72.9,534.8 L72.1,534.3 L71.4,533.9 L70.6,533.6 L69.9,533.3 L69.1,533.2 L68.4,533.1 L67.7,533.1 L67.1,533.2 L66.5,533.4 L65.9,533.7" fill="none" stroke="#1a1a1a" stroke-width="1.25" stroke-linejoin="round" />
<path d="M39.4,546.5 L39.4,545.0 L39.6,543.6 L39.9,542.4 L40.2,541.2 L40.7,540.1 L41.3,539.1 L42.0,538.3 L42.7,537.6 L43.6,537.0 L61.8,526.5 L62.7,526.0 L63.7,525.7 L64.8,525.6 L65.9,525.5 L67.1,525.7 L68.3,525.9 L69.6,526.3 L70.8,526.9 L72.1,527.6 L73.4,528.4 L74.6,529.3 L75.9,530.4 L77.1,531.5 L78.3,532.8 L79.4,534.1 L80.5,535.5 L81.5,537.0 L82.5,538.6 L83.3,540.2 L84.1,541.8 L84.8,543.4 L85.4,545.1 L85.9,546.7 L86.3,548.4 L86.6,550.0 L86.7,551.5 L86.8,553.0 L86.8,554.5 L86.6,555.9 L86.3,557.1 L86.0,558.3 L85.5,559.4 L84.9,560.4 L84.2,561.2 L83.4,561.9 L82.6,562.5 L64.4,573.0 L63.5,573.5 L62.5,573.8 L61.4,573.9 L60.3,574.0 L59.1,573.8 L57.9,573.6 L56.6,573.2 L55.4,572.6 L54.1,571.9 L52.8,571.1 L51.5,570.2 L50.3,569.1 L49.1,568.0 L47.9,566.7 L46.8,565.4 L45.7,564.0 L44.7,562.5 L43.7,560.9 L42.9,559.3 L42.1,557.7 L41.4,556.1 L40.8,554.4 L40.3,552.8 L39.9,551.1 L39.6,549.5 L39.5,548.0 Z" fill="#fff" stroke="#1a1a1a" stroke-width="1.25" stroke-linejoin="round" />
<path d="M64.4,573.0 L65.3,572.4 L66.0,571.7 L66.7,570.9 L67.3,569.9 L67.8,568.8 L68.1,567.6 L68.4,566.4 L68.6,565.0 L68.6,563.5 L68.6,562.0 L68.4,560.5 L68.1,558.9 L67.7,557.2 L67.2,555.6 L66.6,553.9 L65.9,552.3 L65.1,550.7 L64.3,549.1 L63.3,547.5 L62.3,546.0 L61.2,544.6 L60.1,543.3 L58.9,542.0 L57.7,540.9 L56.4,539.8 L55.2,538.9 L53.9,538.1 L52.6,537.4 L51.4,536.8 L50.1,536.4 L48.9,536.2 L47.7,536.0 L46.6,536.1 L45.5,536.2 L44.5,536.5 L43.6,537.0" fill="none" stroke="#1a1a1a" stroke-width="1.25" stroke-linejoin="round" />
<ellipse cx="250.6" cy="441.5" rx="11.5" ry="6.6" transform="rotate(60 250.6 441.5)" fill="none" stroke="#1a1a1a" stroke-width="1.0"/>
<path d="M242.9,433.3 L242.9,433.2 L247.3,430.7 L247.4,430.6 L258.4,449.7 L253.9,452.3 Z" fill="#fff" stroke="#1a1a1a" stroke-width="0.9" stroke-linejoin="round" />
<ellipse cx="56.7" cy="544.5" rx="2.9" ry="1.9" transform="rotate(60 56.7 544.5)" fill="none" stroke="#1a1a1a" stroke-width="1.2"/>
<ellipse cx="61.1" cy="550.5" rx="2.0" ry="1.3" transform="rotate(60 61.1 550.5)" fill="none" stroke="#1a1a1a" stroke-width="1.2"/>
<ellipse cx="64.4" cy="557.6" rx="2.9" ry="1.9" transform="rotate(60 64.4 557.6)" fill="none" stroke="#1a1a1a" stroke-width="1.2"/>
<ellipse cx="43.6" cy="552.7" rx="2.9" ry="1.9" transform="rotate(60 43.6 552.7)" fill="none" stroke="#1a1a1a" stroke-width="1.2"/>
<ellipse cx="46.1" cy="559.2" rx="2.1" ry="1.4" transform="rotate(60 46.1 559.2)" fill="none" stroke="#1a1a1a" stroke-width="1.2"/>
<ellipse cx="50.2" cy="565.2" rx="2.9" ry="1.9" transform="rotate(60 50.2 565.2)" fill="none" stroke="#1a1a1a" stroke-width="1.2"/>
</g>
<g id="leaders">
<path class="cl2" d="M418.7,345.1 L441.9,332.9 M455.9,323.2 L485.3,306.8 M487.3,305.7 L489,304.8 M491,303.7 L518.6,287.6 M522.8,285.2 L526,283.3 M529.3,281.4 L541,274.6"/>
<path class="cl2" d="M442.4,308.5 L451,303.6"/>
<path class="cl2" d="M583.5,249.2 L590.8,245.3"/>
<path class="cl2" d="M166.4,456 L167.2,471 M197.6,443.5 L198.5,459"/>
<path class="ld" d="M112.3,305.4 H146"/>
<path class="ld" d="M185.8,295.4 H228.5"/>
<path class="ld" d="M112.3,374.2 H127.8 L149.7,410.8"/>
<path class="ld" d="M245.2,361.7 H229.7 L205.3,406.6"/>
<path class="ld" d="M221.7,481 V559.7"/>
<path class="ld" d="M441.5,361.5 V432.9"/>
<path class="ld" d="M477.6,328.4 V413.5"/>
<path class="ld" d="M465.3,263.6 V274.7 M455.6,280.3 L476,268.6 M455.6,280.3 V296 M476,268.6 V283.6"/>
<path class="ld" d="M606.9,195.4 V231.8"/>
<path class="ld" d="M576.4,208.1 V222.5 L592,239.4"/>
</g>
<g id="labels">
<text x="85.6" y="308.0" textLength="24.7" lengthAdjust="spacingAndGlyphs">0110</text>
<text x="235.4" y="300.5" textLength="24.7" lengthAdjust="spacingAndGlyphs">0110</text>
<text x="86.3" y="378.5" textLength="24.7" lengthAdjust="spacingAndGlyphs">0100</text>
<text x="248.6" y="367.2" textLength="24.7" lengthAdjust="spacingAndGlyphs">0100</text>
<text x="209.8" y="570.9" textLength="24.7" lengthAdjust="spacingAndGlyphs">0030</text>
<text x="209.8" y="591.6" textLength="24.7" lengthAdjust="spacingAndGlyphs">0040</text>
<text x="428.5" y="446.3" textLength="24.7" lengthAdjust="spacingAndGlyphs">0080</text>
<text x="464.7" y="430.4" textLength="24.7" lengthAdjust="spacingAndGlyphs">0050</text>
<text x="453.0" y="261.0" textLength="24.7" lengthAdjust="spacingAndGlyphs">0090</text>
<text x="563.4" y="204.0" textLength="24.7" lengthAdjust="spacingAndGlyphs">0070</text>
<text x="593.9" y="191.8" textLength="24.7" lengthAdjust="spacingAndGlyphs">0060</text>
<text x="220.1" y="577.6" style="font-size:15px;font-weight:bold;stroke:none">.</text>
</g>
</svg>
</body></html>
